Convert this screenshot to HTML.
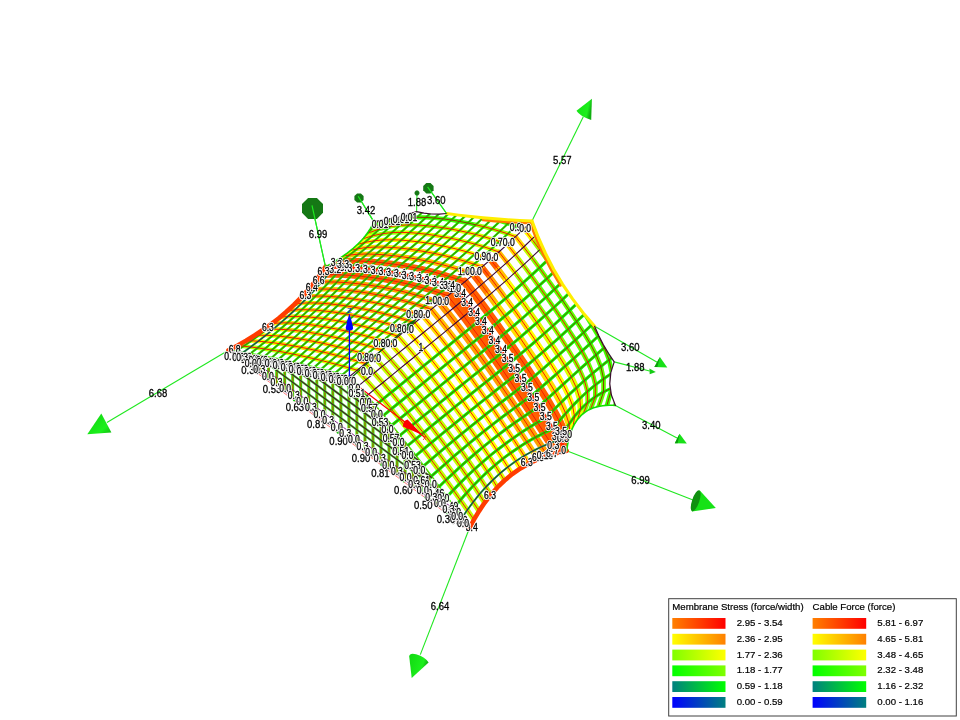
<!DOCTYPE html>
<html><head><meta charset="utf-8"><title>Membrane stress plot</title>
<style>
html,body{margin:0;padding:0;background:#fff;}
svg{display:block;will-change:transform;font-family:"Liberation Sans",Arial,sans-serif;}
.lt{font-size:9.62px;fill:#000;stroke:#000;stroke-width:0.2px;}
.lb{font-size:11.2px;fill:#000;stroke:#000;stroke-width:0.3px;stroke-linejoin:round;text-anchor:middle;}
.h{fill:#fff;stroke:#fff;stroke-width:2.2px;}
.s{font-size:10px;}
</style></head>
<body>
<svg width="960" height="720" viewBox="0 0 960 720">
<defs><linearGradient id="cg1" x1="0" y1="0" x2="1" y2="1"><stop offset="0" stop-color="#10d010"/><stop offset="0.7" stop-color="#1cf01c"/><stop offset="1" stop-color="#0fb80f"/></linearGradient><linearGradient id="cg2" x1="0" y1="0" x2="1" y2="0.4"><stop offset="0" stop-color="#12d812"/><stop offset="0.75" stop-color="#1cf01c"/><stop offset="1" stop-color="#0fa80f"/></linearGradient><linearGradient id="cg3" x1="0" y1="0" x2="1" y2="0.3"><stop offset="0" stop-color="#14e014"/><stop offset="0.8" stop-color="#1cee1c"/><stop offset="1" stop-color="#10b010"/></linearGradient><linearGradient id="lg0"><stop offset="0" stop-color="#0000ff"/><stop offset="1" stop-color="#008080"/></linearGradient><linearGradient id="lg1"><stop offset="0" stop-color="#008080"/><stop offset="1" stop-color="#00ff00"/></linearGradient><linearGradient id="lg2"><stop offset="0" stop-color="#00ff00"/><stop offset="1" stop-color="#80ff00"/></linearGradient><linearGradient id="lg3"><stop offset="0" stop-color="#80ff00"/><stop offset="1" stop-color="#ffff00"/></linearGradient><linearGradient id="lg4"><stop offset="0" stop-color="#ffff00"/><stop offset="1" stop-color="#ff8000"/></linearGradient><linearGradient id="lg5"><stop offset="0" stop-color="#ff8000"/><stop offset="1" stop-color="#ff0000"/></linearGradient><clipPath id="mem"><path d="M228.5 350.3L235.7 351.4L242.8 352.6L250.0 353.9L257.1 355.2L264.3 356.5L271.4 358.0L278.5 359.4L285.6 360.9L292.7 362.5L299.8 364.1L306.9 365.8L313.9 367.6L321.0 369.3L328.0 371.2L335.0 373.1L342.0 375.0L349.0 377.0L357.9 386.4L366.5 396.0L375.0 405.7L383.3 415.6L391.5 425.5L399.6 435.6L407.6 445.7L415.6 455.9L423.4 466.1L431.2 476.4L438.9 486.8L446.6 497.1L454.2 507.6L461.8 518.0L469.3 528.5L473.9 519.7L479.0 511.1L484.6 502.8L490.7 494.9L497.3 487.4L504.5 480.5L512.2 474.1L520.4 468.4L529.0 463.4L538.0 459.1L547.3 455.6L556.9 452.9L566.7 450.8L568.0 442.5L570.0 434.3L573.2 426.5L577.6 419.4L583.5 413.4L590.7 409.0L598.6 406.4L607.0 405.3L615.4 405.5L611.4 395.0L609.8 383.8L610.8 372.6L614.2 361.9L608.5 353.4L603.4 344.7L598.7 335.6L594.6 326.3L583.2 312.9L572.5 298.9L562.6 284.3L553.6 269.2L545.5 253.5L538.3 237.5L532.0 221.0L519.8 220.4L507.5 219.7L495.3 218.8L483.1 217.7L470.9 216.5L458.8 215.1L446.6 213.5L439.1 214.2L431.5 214.0L424.0 213.2L416.6 211.6L406.1 214.9L395.4 217.6L384.7 219.9L373.8 221.6L370.5 228.3L366.4 234.6L361.6 240.3L356.3 245.6L350.6 250.5L344.6 255.0L338.4 259.2L332.0 263.1L325.5 266.8L319.9 275.0L313.9 283.0L307.5 290.6L300.8 298.0L293.8 305.0L286.4 311.8L278.8 318.2L270.9 324.3L262.8 330.0L254.5 335.5L246.0 340.7L237.3 345.7L228.5 350.3Z"/></clipPath></defs>
<rect width="960" height="720" fill="#fff"/>
<g fill="none" stroke-linecap="butt">
<path d="M228.5 350.3L106.9 422.5" stroke="#1fe81f" stroke-width="1.1"/>
<path d="M469.3 528.5L420.3 654.6" stroke="#1fe81f" stroke-width="1.1"/>
<path d="M566.7 450.8L695.6 501.0" stroke="#1fe81f" stroke-width="1.1"/>
<path d="M532.0 221.0L583.3 116.7" stroke="#1fe81f" stroke-width="1.1"/>
<path d="M594.6 326.3L657.6 362.4" stroke="#1fe81f" stroke-width="1.1"/>
<path d="M614.2 361.9L649.6 371.0" stroke="#1fe81f" stroke-width="1.1"/>
<path d="M615.4 405.5L678.0 438.5" stroke="#1fe81f" stroke-width="1.1"/>
<path d="M325.5 266.8L312.0 205.4" stroke="#1fe81f" stroke-width="1.1"/>
<path d="M373.8 221.6L358.2 196.2" stroke="#1fe81f" stroke-width="1.1"/>
<path d="M416.6 211.6L417.0 192.5" stroke="#1fe81f" stroke-width="1.1"/>
<path d="M446.6 213.5L427.6 186.8" stroke="#1fe81f" stroke-width="1.1"/>
</g>
<g fill="none" stroke-linecap="butt">
<path d="M236.5 351.6V356.2M244.6 352.9V362.2M252.6 354.3V368.1M260.6 355.8V374.1M268.6 357.4V380.0M276.7 359.0V385.9M284.7 360.7V391.9M292.7 362.5V397.8M300.7 364.4V403.8M308.8 366.3V409.7M316.8 368.3V415.6M324.8 370.3V421.6M332.8 372.5V427.5M340.9 374.7V433.5M348.9 377.0V439.4M356.9 385.4V445.3M365.0 394.2V451.3M373.0 403.4V457.2M381.0 412.8V463.2M389.0 422.5V469.1M397.1 432.4V475.0M405.1 442.5V481.0M413.1 452.7V486.9M421.1 463.1V492.9M429.2 473.7V498.8M437.2 484.4V504.7M445.2 495.3V510.7M453.2 506.2V516.6M461.3 517.3V522.6" stroke="#30e000" stroke-width="2.9"/>
<path d="M236.5 351.6V356.2M244.6 352.9V362.2M252.6 354.3V368.1M260.6 355.8V374.1M268.6 357.4V380.0M276.7 359.0V385.9M284.7 360.7V391.9M292.7 362.5V397.8M300.7 364.4V403.8M308.8 366.3V409.7M316.8 368.3V415.6M324.8 370.3V421.6M332.8 372.5V427.5M340.9 374.7V433.5M348.9 377.0V439.4M356.9 385.4V445.3M365.0 394.2V451.3M373.0 403.4V457.2M381.0 412.8V463.2M389.0 422.5V469.1M397.1 432.4V475.0M405.1 442.5V481.0M413.1 452.7V486.9M421.1 463.1V492.9M429.2 473.7V498.8M437.2 484.4V504.7M445.2 495.3V510.7M453.2 506.2V516.6M461.3 517.3V522.6" stroke="#a07800" stroke-width="1.3"/>
<path d="M256.6 355.6L444.2 494.4M270.1 358.1L432.2 478.0M284.2 361.0L419.1 460.9M298.7 364.3L405.1 443.0M313.8 367.9L390.5 424.7M329.3 371.9L374.0 405.0M345.4 376.3L353.9 382.6" stroke="#30e020" stroke-width="2.4" opacity="0.8"/>
<path d="M256.6 355.6L444.2 494.4M270.1 358.1L432.2 478.0M284.2 361.0L419.1 460.9M298.7 364.3L405.1 443.0M313.8 367.9L390.5 424.7M329.3 371.9L374.0 405.0M345.4 376.3L353.9 382.6" stroke="#4a0828" stroke-width="1.15"/>
<path d="M230.0 350.9L467.8 526.9M243.0 353.1L456.3 510.8" stroke="#70107a" stroke-width="0.9"/>
<path d="M229.5 352.5L468.3 529.7" stroke="#ff5a5a" stroke-width="0.8"/>
<g fill="#18c818" stroke="none"><circle cx="250.4" cy="367.7" r="1.3"/><circle cx="272.3" cy="383.9" r="1.3"/><circle cx="294.2" cy="400.1" r="1.3"/><circle cx="316.1" cy="416.3" r="1.3"/><circle cx="338.0" cy="432.5" r="1.3"/><circle cx="359.8" cy="448.7" r="1.3"/><circle cx="381.7" cy="464.9" r="1.3"/><circle cx="403.6" cy="481.1" r="1.3"/><circle cx="425.5" cy="497.3" r="1.3"/><circle cx="447.4" cy="513.5" r="1.3"/></g>
</g>
<g fill="none" stroke-linecap="round" stroke-linejoin="round" clip-path="url(#mem)">
<path d="M228.5 350.3L235.7 351.4M235.7 351.4L242.8 352.6M242.8 352.6L250.0 353.9M250.0 353.9L257.1 355.2M257.1 355.2L264.3 356.5M264.3 356.5L271.4 358.0M271.4 358.0L278.5 359.4M278.5 359.4L285.6 360.9M285.6 360.9L292.7 362.5M292.7 362.5L299.8 364.1M299.8 364.1L306.9 365.8M306.9 365.8L313.9 367.6M313.9 367.6L321.0 369.3M321.0 369.3L328.0 371.2M328.0 371.2L335.0 373.1M335.0 373.1L342.0 375.0M342.0 375.0L349.0 377.0M349.0 377.0L357.9 386.4M357.9 386.4L366.5 396.0M366.5 396.0L375.0 405.7M375.0 405.7L383.3 415.6M383.3 415.6L391.5 425.5M391.5 425.5L399.6 435.6M399.6 435.6L407.6 445.7M407.6 445.7L415.6 455.9M415.6 455.9L423.4 466.1M423.4 466.1L431.2 476.4M431.2 476.4L438.9 486.8M438.9 486.8L446.6 497.1M446.6 497.1L454.2 507.6M454.2 507.6L461.8 518.0M461.8 518.0L469.3 528.5" stroke="#40ff00" stroke-width="2.6"/>
<path d="M379.5 229.0L390.2 226.5M373.6 226.8L386.5 222.0M386.5 222.0L397.8 219.2M397.8 219.2L407.8 217.8M407.8 217.8L417.2 217.3M417.2 217.3L426.0 217.4M426.0 217.4L434.6 218.0M434.6 218.0L443.0 218.9M443.0 218.9L451.3 220.0M451.3 220.0L459.5 221.4M459.5 221.4L467.7 223.0M467.7 223.0L475.8 224.8M370.5 228.3L379.3 220.0M379.3 220.0L393.3 214.8M393.3 214.8L405.1 211.8M405.1 211.8L415.6 210.2M415.6 210.2L425.1 209.6M425.1 209.6L434.1 209.7M434.1 209.7L442.8 210.2M442.8 210.2L451.2 211.1M451.2 211.1L459.5 212.3M459.5 212.3L467.7 213.6M467.7 213.6L475.9 215.2M475.9 215.2L484.0 217.0M484.0 217.0L492.1 218.9M492.1 218.9L500.1 221.1M500.1 221.1L508.1 223.5M508.1 223.5L516.0 226.1M516.0 226.1L523.8 228.9M373.8 221.6L384.4 212.8M500.3 211.1L508.3 213.2M508.3 213.2L516.3 215.6M516.3 215.6L524.2 218.2M524.2 218.2L532.0 221.0" stroke="#40ff00" stroke-width="4.1"/>
<path d="M562.8 281.3L570.3 292.1M570.3 292.1L577.7 302.9M577.7 302.9L584.9 313.8M584.9 313.8L591.8 324.8M591.8 324.8L598.4 336.0M598.4 336.0L604.3 347.7M604.3 347.7L609.1 359.9M609.1 359.9L611.9 373.2M611.9 373.2L611.8 388.0M611.8 388.0L607.0 405.3M563.4 262.8L571.0 273.5M571.0 273.5L578.5 284.2M578.5 284.2L585.8 295.0M585.8 295.0L593.0 305.9M593.0 305.9L600.0 317.1M600.0 317.1L606.6 328.5M606.6 328.5L612.5 340.5M612.5 340.5L617.3 353.4M617.3 353.4L620.2 367.8M620.2 367.8L620.1 384.8M620.1 384.8L615.4 405.5M571.6 254.9L579.2 265.6M579.2 265.6L586.6 276.3M586.6 276.3L594.0 287.1M594.0 287.1L601.2 298.1M601.2 298.1L608.2 309.2M608.2 309.2L614.8 320.6M614.8 320.6L620.7 332.6M620.7 332.6L625.4 345.5M625.4 345.5L628.3 360.0M628.3 360.0L628.2 376.9M628.2 376.9L623.6 397.6M579.8 247.1L587.3 257.7M587.3 257.7L594.8 268.5M594.8 268.5L602.2 279.3M602.2 279.3L609.4 290.2M609.4 290.2L616.3 301.3M616.3 301.3L622.9 312.8M622.9 312.8L628.8 324.7M628.8 324.7L633.6 337.7M633.6 337.7L636.5 352.1M636.5 352.1L636.4 369.0M636.4 369.0L631.7 389.8" stroke="#40ff00" stroke-width="4.6"/>
<path d="M538.7 286.2L546.3 296.8M546.3 296.8L553.8 307.5M553.8 307.5L561.1 318.3M561.1 318.3L568.3 329.2M568.3 329.2L575.3 340.1M575.3 340.1L581.9 351.1M581.9 351.1L587.8 362.2M587.8 362.2L592.5 373.4M592.5 373.4L595.4 384.9M595.4 384.9L595.3 396.7M595.3 396.7L590.7 409.0M539.4 267.9L547.0 278.5M547.0 278.5L554.6 289.1M554.6 289.1L562.1 299.8M562.1 299.8L569.4 310.6M569.4 310.6L576.6 321.5M576.6 321.5L583.6 332.5M583.6 332.5L590.2 343.6M590.2 343.6L596.1 354.9M596.1 354.9L600.8 366.6M600.8 366.6L603.6 378.8M603.6 378.8L603.5 391.9M603.5 391.9L598.6 406.4M547.6 260.1L555.3 270.7M555.3 270.7L562.8 281.3M555.8 252.2L563.4 262.8M556.1 233.8L563.9 244.3M563.9 244.3L571.6 254.9M564.3 226.0L572.1 236.5M572.1 236.5L579.8 247.1" stroke="#60ff00" stroke-width="4.6"/>
<path d="M530.4 293.8L537.9 304.5M537.9 304.5L545.4 315.2M545.4 315.2L552.8 326.0M552.8 326.0L560.0 336.8M560.0 336.8L567.0 347.7M567.0 347.7L573.6 358.6M573.6 358.6L579.5 369.5M579.5 369.5L584.4 380.5M584.4 380.5L587.4 391.5M587.4 391.5L587.7 402.5M587.7 402.5L583.5 413.4M531.1 275.6L538.7 286.2M531.6 257.4L539.4 267.9M539.8 249.6L547.6 260.1M548.0 241.7L555.8 252.2" stroke="#80ff00" stroke-width="4.6"/>
<path d="M237.3 345.7L243.6 346.2M243.6 346.2L250.6 347.0M372.3 235.8L382.5 233.7M382.5 233.7L391.9 232.6M391.9 232.6L400.9 232.4M367.4 233.3L379.5 229.0M390.2 226.5L399.9 225.3M399.9 225.3L409.1 224.9M409.1 224.9L417.8 225.1M417.8 225.1L426.3 225.7M426.3 225.7L434.7 226.6M434.7 226.6L443.0 227.8M443.0 227.8L451.2 229.1M366.4 234.6L373.6 226.8M475.8 224.8L483.9 226.7M483.9 226.7L491.9 228.9M491.9 228.9L499.9 231.3M499.9 231.3L507.8 233.8M384.4 212.8L399.6 207.4M399.6 207.4L412.3 204.1M412.3 204.1L423.2 202.5M423.2 202.5L433.0 201.8M433.0 201.8L442.1 201.8M442.1 201.8L450.9 202.4M450.9 202.4L459.3 203.3M459.3 203.3L467.7 204.4M467.7 204.4L475.9 205.8M475.9 205.8L484.1 207.3M484.1 207.3L492.2 209.1M492.2 209.1L500.3 211.1M382.0 213.7L392.6 205.0M392.6 205.0L407.8 199.5M407.8 199.5L420.4 196.3M516.5 205.4L524.4 207.7M524.4 207.7L532.3 210.3M532.3 210.3L540.2 213.1" stroke="#a0ff00" stroke-width="4.1"/>
<path d="M514.9 272.7L522.7 283.2M522.7 283.2L530.4 293.8M523.3 265.1L531.1 275.6M531.9 239.2L539.8 249.6M540.1 231.3L548.0 241.7M548.2 223.4L556.1 233.8M556.4 215.6L564.3 226.0" stroke="#a0ff00" stroke-width="4.6"/>
<path d="M250.6 347.0L257.6 347.9M257.6 347.9L264.7 348.9M264.7 348.9L271.8 350.1M271.8 350.1L278.9 351.3M278.9 351.3L286.1 352.7M420.4 196.3L431.3 194.6M431.3 194.6L441.2 193.9M441.2 193.9L450.3 194.0M450.3 194.0L459.0 194.5M459.0 194.5L467.5 195.4M467.5 195.4L475.8 196.5M475.8 196.5L484.1 197.9M484.1 197.9L492.2 199.5M492.2 199.5L500.4 201.2M500.4 201.2L508.4 203.2M508.4 203.2L516.5 205.4M390.1 205.9L400.8 197.1M400.8 197.1L416.0 191.6M416.0 191.6L428.6 188.4M428.6 188.4L439.5 186.7M439.5 186.7L449.3 186.1M449.3 186.1L458.5 186.1M458.5 186.1L467.2 186.6M467.2 186.6L475.7 187.5M475.7 187.5L484.0 188.7M484.0 188.7L492.2 190.0M492.2 190.0L500.4 191.6M500.4 191.6L508.5 193.4M508.5 193.4L516.6 195.3M516.6 195.3L524.6 197.5M524.6 197.5L532.6 199.9M532.6 199.9L540.5 202.5M540.5 202.5L548.3 205.3" stroke="#c0ff00" stroke-width="4.1"/>
<path d="M515.4 254.7L523.3 265.1M523.7 247.0L531.6 257.4" stroke="#c0ff00" stroke-width="4.6"/>
<path d="M357.2 370.2L366.0 379.7M366.0 379.7L374.6 389.3M374.6 389.3L383.0 399.1M383.0 399.1L391.3 409.0M391.3 409.0L399.5 419.0M399.5 419.0L407.5 429.1M407.5 429.1L415.4 439.3M415.4 439.3L423.3 449.4M423.3 449.4L431.0 459.6M431.0 459.6L438.6 469.8M438.6 469.8L446.0 480.0M446.0 480.0L453.3 490.1M453.3 490.1L460.4 500.1M460.4 500.1L467.3 510.0M467.3 510.0L473.9 519.7M365.5 363.5L374.2 373.0M374.2 373.0L382.7 382.7M382.7 382.7L391.1 392.5M391.1 392.5L399.3 402.5M399.3 402.5L407.4 412.6M407.4 412.6L415.4 422.7M415.4 422.7L423.3 432.8M423.3 432.8L431.0 443.0M431.0 443.0L438.6 453.2M438.6 453.2L446.0 463.3M446.0 463.3L453.2 473.3M453.2 473.3L460.1 483.1M460.1 483.1L466.8 492.7M466.8 492.7L473.1 502.1M473.1 502.1L479.0 511.1M373.7 356.7L382.4 366.3M382.4 366.3L390.8 376.1M390.8 376.1L399.2 386.0M399.2 386.0L407.3 396.0M407.3 396.0L415.4 406.1M415.4 406.1L423.3 416.2M423.3 416.2L431.1 426.4M431.1 426.4L438.7 436.6M438.7 436.6L446.2 446.7M446.2 446.7L453.4 456.7M453.4 456.7L460.4 466.6M460.4 466.6L467.1 476.2M467.1 476.2L473.5 485.5M473.5 485.5L479.3 494.4M479.3 494.4L484.6 502.8M381.9 349.9L390.5 359.6M390.5 359.6L399.0 369.4M399.0 369.4L407.2 379.4M407.2 379.4L415.3 389.5M415.3 389.5L423.3 399.6M423.3 399.6L431.2 409.8M431.2 409.8L438.9 420.0M438.9 420.0L446.5 430.2M446.5 430.2L453.8 440.3M453.8 440.3L461.0 450.3M461.0 450.3L467.8 460.0M467.8 460.0L474.3 469.5M474.3 469.5L480.4 478.5M480.4 478.5L485.9 487.0M485.9 487.0L490.7 494.9" stroke="#c0ff00" stroke-width="5.0"/>
<path d="M286.1 352.7L293.2 354.1M293.2 354.1L300.4 355.6M300.4 355.6L307.5 357.2M307.5 357.2L314.7 358.9M314.7 358.9L321.8 360.6M321.8 360.6L328.9 362.4M328.9 362.4L336.0 364.3M336.0 364.3L343.1 366.2M343.1 366.2L350.2 368.2M350.2 368.2L357.2 370.2M356.3 245.6L360.9 239.5M360.9 239.5L372.3 235.8M400.9 232.4L409.5 232.6M409.5 232.6L418.0 233.3M418.0 233.3L426.3 234.2M426.3 234.2L434.6 235.4M434.6 235.4L442.8 236.8M442.8 236.8L451.0 238.3M451.0 238.3L459.1 240.1M459.1 240.1L467.2 242.1M467.2 242.1L475.2 244.2M475.2 244.2L483.2 246.6M483.2 246.6L491.1 249.2M491.1 249.2L498.9 252.0M361.6 240.3L367.4 233.3M451.2 229.1L459.4 230.7M459.4 230.7L467.5 232.5M467.5 232.5L475.6 234.4M475.6 234.4L483.6 236.6M483.6 236.6L491.6 239.0M491.6 239.0L499.5 241.6M499.5 241.6L507.3 244.4M507.8 233.8L515.6 236.7" stroke="#dfff00" stroke-width="4.1"/>
<path d="M507.0 262.3L514.9 272.7" stroke="#dfff00" stroke-width="4.6"/>
<path d="M390.2 343.2L398.7 352.9M398.7 352.9L407.1 362.8M407.1 362.8L415.3 372.8M415.3 372.8L423.4 382.9M423.4 382.9L431.3 393.1M431.3 393.1L439.1 403.4M439.1 403.4L446.8 413.6M446.8 413.6L454.3 423.8M454.3 423.8L461.6 433.9M461.6 433.9L468.6 443.9M468.6 443.9L475.3 453.5M475.3 453.5L481.7 462.9M481.7 462.9L487.5 471.7M487.5 471.7L492.8 480.0M492.8 480.0L497.3 487.4M398.4 336.4L406.9 346.2M406.9 346.2L415.2 356.2M415.2 356.2L423.3 366.2M423.3 366.2L431.4 376.4M431.4 376.4L439.3 386.7M439.3 386.7L447.0 397.0M447.0 397.0L454.6 407.2M454.6 407.2L462.1 417.5M462.1 417.5L469.3 427.6M469.3 427.6L476.3 437.5M476.3 437.5L482.9 447.2M482.9 447.2L489.2 456.4M489.2 456.4L495.0 465.2M495.0 465.2L500.1 473.3M500.1 473.3L504.5 480.5" stroke="#dfff00" stroke-width="5.0"/>
<path d="M521.9 301.4L529.5 312.0M529.5 312.0L537.0 322.7M537.0 322.7L544.3 333.5M544.3 333.5L551.5 344.3M551.5 344.3L558.5 355.2M558.5 355.2L565.2 366.1M565.2 366.1L571.3 377.0M571.3 377.0L576.4 387.8M576.4 387.8L579.8 398.5M579.8 398.5L580.7 409.1M580.7 409.1L577.6 419.4" stroke="#dfff00" stroke-width="6.0"/>
<path d="M452.5 291.8L460.6 302.1M460.6 302.1L468.6 312.5M468.6 312.5L476.4 323.0M476.4 323.0L484.1 333.5M484.1 333.5L491.7 344.2M491.7 344.2L499.2 354.9M499.2 354.9L506.6 365.6M506.6 365.6L513.9 376.4M513.9 376.4L521.1 387.2M521.1 387.2L528.3 398.0M528.3 398.0L535.3 408.8M535.3 408.8L542.3 419.6M542.3 419.6L549.2 430.4M549.2 430.4L556.0 441.1M556.0 441.1L562.6 451.7" stroke="#ff5a00" stroke-width="8.0"/>
<path d="M482.0 267.0L490.0 277.3" stroke="#ff6000" stroke-width="5.6"/>
<path d="M490.5 259.6L498.5 269.9" stroke="#ff6000" stroke-width="6.0"/>
<path d="M319.9 275.0L320.0 274.6M320.0 274.6L327.8 274.6M327.8 274.6L335.7 274.7M335.7 274.7L343.7 275.0M343.7 275.0L351.8 275.5M351.8 275.5L359.8 276.2M359.8 276.2L367.9 277.1M367.9 277.1L376.0 278.1M376.0 278.1L384.1 279.3M384.1 279.3L392.2 280.7M392.2 280.7L400.3 282.3M400.3 282.3L408.3 284.1M408.3 284.1L416.3 286.0M416.3 286.0L424.3 288.2M424.3 288.2L432.2 290.5M432.2 290.5L440.0 293.0M440.0 293.0L447.8 295.8M332.0 263.1L332.9 261.8M332.9 261.8L341.7 261.1M341.7 261.1L350.4 260.8M350.4 260.8L358.9 261.0M358.9 261.0L367.3 261.4M367.3 261.4L375.6 262.0M375.6 262.0L383.9 262.9M383.9 262.9L392.2 263.9M392.2 263.9L400.4 265.1M400.4 265.1L408.6 266.5M408.6 266.5L416.8 268.1M416.8 268.1L424.9 269.9M424.9 269.9L433.0 271.8M433.0 271.8L441.0 274.0M441.0 274.0L449.0 276.4M449.0 276.4L456.9 279.0M456.9 279.0L464.7 281.8" stroke="#ff6000" stroke-width="6.2"/>
<path d="M473.4 274.4L481.4 284.7" stroke="#ff6000" stroke-width="7.0"/>
<path d="M464.7 281.8L472.8 292.1M472.8 292.1L480.7 302.5M480.7 302.5L488.5 313.0M488.5 313.0L496.2 323.6M496.2 323.6L503.7 334.2M503.7 334.2L511.2 344.9M511.2 344.9L518.6 355.7M518.6 355.7L525.9 366.5M525.9 366.5L533.1 377.4M533.1 377.4L540.1 388.3M540.1 388.3L546.9 399.2M546.9 399.2L553.3 410.2M553.3 410.2L559.2 421.0M559.2 421.0L564.2 431.8M564.2 431.8L568.0 442.5" stroke="#ff6000" stroke-width="8.0"/>
<path d="M447.8 295.8L455.9 306.0M455.9 306.0L463.9 316.3M463.9 316.3L471.7 326.8M471.7 326.8L479.4 337.3M479.4 337.3L487.0 347.9M487.0 347.9L494.6 358.6M494.6 358.6L502.0 369.2M502.0 369.2L509.3 379.9M509.3 379.9L516.5 390.6M516.5 390.6L523.6 401.3M523.6 401.3L530.6 411.9M530.6 411.9L537.5 422.4M537.5 422.4L544.1 432.8M544.1 432.8L550.6 442.9M550.6 442.9L556.9 452.9" stroke="#ff6000" stroke-width="8.6"/>
<path d="M481.4 284.7L489.3 295.1" stroke="#ff8000" stroke-width="7.0"/>
<path d="M345.4 290.2L353.2 291.0M353.2 291.0L361.1 292.0M361.1 292.0L369.0 293.3M369.0 293.3L376.9 294.7M376.9 294.7L384.7 296.2M384.7 296.2L392.6 298.0M392.6 298.0L400.4 299.9M400.4 299.9L408.2 302.0M408.2 302.0L416.0 304.3M416.0 304.3L423.7 306.7M423.7 306.7L431.3 309.3" stroke="#ffa000" stroke-width="4.5"/>
<path d="M313.9 283.0L314.1 282.3M314.1 282.3L321.6 282.0M321.6 282.0L329.2 281.9M329.2 281.9L336.9 282.1M336.9 282.1L344.8 282.5M344.8 282.5L352.7 283.2M352.7 283.2L360.6 284.0M360.6 284.0L368.6 285.1M368.6 285.1L376.6 286.3M376.6 286.3L384.6 287.7M384.6 287.7L392.5 289.3M392.5 289.3L400.5 291.0M400.5 291.0L408.4 293.0M408.4 293.0L416.3 295.1M416.3 295.1L424.1 297.4M424.1 297.4L431.8 299.9M431.8 299.9L439.5 302.5" stroke="#ffa000" stroke-width="5.0"/>
<path d="M490.0 277.3L497.9 287.7" stroke="#ffa000" stroke-width="5.6"/>
<path d="M439.5 302.5L447.7 312.7M447.7 312.7L455.7 323.0M455.7 323.0L463.6 333.4M463.6 333.4L471.4 343.8M471.4 343.8L479.1 354.4M479.1 354.4L486.6 364.9M486.6 364.9L494.1 375.5M494.1 375.5L501.4 386.1M501.4 386.1L508.6 396.7M508.6 396.7L515.6 407.1M515.6 407.1L522.5 417.4M522.5 417.4L529.1 427.5M529.1 427.5L535.5 437.3M535.5 437.3L541.6 446.7M541.6 446.7L547.3 455.6" stroke="#ffa000" stroke-width="7.0"/>
<path d="M331.0 311.7L338.6 312.8M338.6 312.8L346.2 314.1M346.2 314.1L353.8 315.5M353.8 315.5L361.4 317.1M361.4 317.1L369.0 318.9M369.0 318.9L376.6 320.7M376.6 320.7L384.2 322.7M384.2 322.7L391.7 324.9M391.7 324.9L399.2 327.2M399.2 327.2L406.6 329.6M316.0 303.0L323.4 303.4M323.4 303.4L330.9 304.0M330.9 304.0L338.4 304.9M338.4 304.9L346.1 305.9M346.1 305.9L353.8 307.2M353.8 307.2L361.5 308.6M361.5 308.6L369.2 310.2M369.2 310.2L376.9 311.9M376.9 311.9L384.5 313.8M384.5 313.8L392.2 315.8M392.2 315.8L399.8 318.0M399.8 318.0L407.3 320.4M407.3 320.4L414.8 322.8M300.8 298.0L301.7 296.9M301.7 296.9L308.6 296.3M308.6 296.3L315.7 296.0M315.7 296.0L323.1 296.1M323.1 296.1L330.6 296.5M330.6 296.5L338.2 297.1M338.2 297.1L345.9 297.9M345.9 297.9L353.6 299.0M353.6 299.0L361.4 300.2M361.4 300.2L369.2 301.6M369.2 301.6L377.0 303.2M377.0 303.2L384.7 304.9M384.7 304.9L392.5 306.8M392.5 306.8L400.2 308.9M400.2 308.9L407.9 311.1M407.9 311.1L415.5 313.5M415.5 313.5L423.1 316.1" stroke="#ffc000" stroke-width="4.1"/>
<path d="M307.5 290.6L308.0 289.7M308.0 289.7L315.2 289.2M315.2 289.2L322.5 289.0M322.5 289.0L330.0 289.2M330.0 289.2L337.7 289.5M337.7 289.5L345.4 290.2" stroke="#ffc000" stroke-width="4.5"/>
<path d="M498.9 252.0L507.0 262.3" stroke="#ffc000" stroke-width="4.6"/>
<path d="M338.4 259.2L340.1 256.5M340.1 256.5L349.5 255.0M349.5 255.0L358.5 254.2M358.5 254.2L367.3 254.0M367.3 254.0L375.8 254.3M375.8 254.3L384.2 254.8M384.2 254.8L392.6 255.6M392.6 255.6L400.8 256.6M400.8 256.6L409.1 257.8M409.1 257.8L417.3 259.2M417.3 259.2L425.4 260.8M425.4 260.8L433.6 262.5M433.6 262.5L441.7 264.5M441.7 264.5L449.7 266.7M449.7 266.7L457.6 269.0M457.6 269.0L465.5 271.6M465.5 271.6L473.4 274.4" stroke="#ffc000" stroke-width="5.0"/>
<path d="M497.9 287.7L505.7 298.3" stroke="#ffc000" stroke-width="5.6"/>
<path d="M431.3 309.3L439.5 319.4M439.5 319.4L447.6 329.6M447.6 329.6L455.6 339.9M455.6 339.9L463.4 350.3M463.4 350.3L471.1 360.8M471.1 360.8L478.7 371.3M478.7 371.3L486.2 381.8M486.2 381.8L493.5 392.3M493.5 392.3L500.7 402.7M500.7 402.7L507.7 413.0M507.7 413.0L514.4 423.0M514.4 423.0L520.9 432.8M520.9 432.8L527.0 442.1M527.0 442.1L532.8 451.0M532.8 451.0L538.0 459.1" stroke="#ffc000" stroke-width="5.8"/>
<path d="M498.5 269.9L506.4 280.3" stroke="#ffc000" stroke-width="6.0"/>
<path d="M489.3 295.1L497.1 305.7" stroke="#ffc000" stroke-width="7.0"/>
<path d="M279.3 343.6L286.4 344.7M286.4 344.7L293.6 345.9M293.6 345.9L300.8 347.3M300.8 347.3L308.0 348.7M308.0 348.7L315.2 350.3M315.2 350.3L322.5 351.9M322.5 351.9L329.7 353.6M329.7 353.6L336.9 355.5M336.9 355.5L344.0 357.3M344.0 357.3L351.2 359.3M351.2 359.3L358.3 361.3M358.3 361.3L365.5 363.5M279.6 336.2L286.7 337.0M286.7 337.0L293.9 338.0M293.9 338.0L301.1 339.1M301.1 339.1L308.4 340.4M308.4 340.4L315.7 341.8M315.7 341.8L322.9 343.3M322.9 343.3L330.2 345.0M330.2 345.0L337.5 346.7M337.5 346.7L344.8 348.5M344.8 348.5L352.1 350.4M352.1 350.4L359.3 352.4M359.3 352.4L366.5 354.5M366.5 354.5L373.7 356.7M280.0 329.3L287.0 329.7M287.0 329.7L294.1 330.4M294.1 330.4L301.3 331.2M301.3 331.2L308.6 332.3M308.6 332.3L315.9 333.5M315.9 333.5L323.3 334.9M323.3 334.9L330.7 336.4M330.7 336.4L338.0 338.0M338.0 338.0L345.4 339.7M345.4 339.7L352.8 341.6M352.8 341.6L360.1 343.5M360.1 343.5L367.4 345.5M367.4 345.5L374.7 347.7M374.7 347.7L381.9 349.9M274.0 323.4L280.5 322.9M280.5 322.9L287.4 322.9M287.4 322.9L294.3 323.2M294.3 323.2L301.5 323.7M301.5 323.7L308.7 324.5M308.7 324.5L316.1 325.5M316.1 325.5L323.5 326.6M323.5 326.6L330.9 328.0M330.9 328.0L338.4 329.4M338.4 329.4L345.8 331.1M345.8 331.1L353.3 332.8M353.3 332.8L360.7 334.6M360.7 334.6L368.1 336.6M368.1 336.6L375.5 338.7M375.5 338.7L382.8 340.8M382.8 340.8L390.2 343.2M278.8 318.2L281.2 317.1M281.2 317.1L287.8 316.5M287.8 316.5L294.6 316.4M294.6 316.4L301.6 316.5M301.6 316.5L308.8 317.0M308.8 317.0L316.1 317.7M316.1 317.7L323.6 318.6M323.6 318.6L331.0 319.7M331.0 319.7L338.5 321.0M338.5 321.0L346.1 322.5M346.1 322.5L353.6 324.1M353.6 324.1L361.1 325.8M361.1 325.8L368.7 327.7M368.7 327.7L376.1 329.7M376.1 329.7L383.6 331.8M383.6 331.8L391.0 334.0M391.0 334.0L398.4 336.4M286.4 311.8L288.2 310.6M288.2 310.6L294.9 309.9M294.9 309.9L301.7 309.7M301.7 309.7L308.9 309.8M308.9 309.8L316.1 310.2M316.1 310.2L323.5 310.9M323.5 310.9L331.0 311.7M293.8 305.0L295.1 303.9M295.1 303.9L301.8 303.2M301.8 303.2L308.8 302.9M308.8 302.9L316.0 303.0" stroke="#ffdf00" stroke-width="4.1"/>
<path d="M344.6 255.0L347.2 251.1M347.2 251.1L357.3 248.8M357.3 248.8L366.6 247.5M366.6 247.5L375.6 247.0M375.6 247.0L384.2 247.1M384.2 247.1L392.7 247.5M392.7 247.5L401.1 248.2M401.1 248.2L409.4 249.2M409.4 249.2L417.7 250.4M417.7 250.4L425.9 251.8M425.9 251.8L434.0 253.4M434.0 253.4L442.2 255.1M442.2 255.1L450.2 257.1M450.2 257.1L458.3 259.3M458.3 259.3L466.2 261.6M466.2 261.6L474.1 264.2M474.1 264.2L482.0 267.0" stroke="#ffdf00" stroke-width="4.5"/>
<path d="M507.3 244.4L515.4 254.7M515.6 236.7L523.7 247.0" stroke="#ffdf00" stroke-width="4.6"/>
<path d="M423.1 316.1L431.4 326.1M431.4 326.1L439.5 336.3M439.5 336.3L447.5 346.5M447.5 346.5L455.4 356.9M455.4 356.9L463.1 367.3M463.1 367.3L470.8 377.7M470.8 377.7L478.3 388.2M478.3 388.2L485.6 398.6M485.6 398.6L492.8 408.9M492.8 408.9L499.7 419.0M499.7 419.0L506.4 428.8M506.4 428.8L512.8 438.4M512.8 438.4L518.7 447.4M518.7 447.4L524.2 455.8M524.2 455.8L529.0 463.4" stroke="#ffdf00" stroke-width="5.0"/>
<path d="M505.7 298.3L513.4 308.8M513.4 308.8L521.0 319.5M521.0 319.5L528.4 330.2" stroke="#ffdf00" stroke-width="5.6"/>
<path d="M497.1 305.7L504.8 316.2M504.8 316.2L512.4 326.9M512.4 326.9L519.9 337.6M519.9 337.6L527.2 348.4M527.2 348.4L534.5 359.2M534.5 359.2L541.6 370.1M541.6 370.1L548.5 381.0M548.5 381.0L555.0 391.9M555.0 391.9L560.9 402.7M560.9 402.7L565.7 413.4M565.7 413.4L569.1 424.0M569.1 424.0L570.0 434.3" stroke="#ffdf00" stroke-width="7.0"/>
<path d="M246.0 340.7L251.4 340.8M251.4 340.8L258.2 341.2M258.2 341.2L265.1 341.8M265.1 341.8L272.2 342.6M272.2 342.6L279.3 343.6M254.5 335.5L259.1 335.2M259.1 335.2L265.8 335.3M265.8 335.3L272.6 335.6M272.6 335.6L279.6 336.2M262.8 330.0L266.6 329.4M266.6 329.4L273.2 329.2M273.2 329.2L280.0 329.3M270.9 324.3L274.0 323.4M350.6 250.5L354.2 245.4M354.2 245.4L364.8 242.4M364.8 242.4L374.6 240.7M374.6 240.7L383.8 239.9M383.8 239.9L392.6 239.8M392.6 239.8L401.2 240.1M401.2 240.1L409.6 240.8M409.6 240.8L417.9 241.8M417.9 241.8L426.2 242.9M426.2 242.9L434.4 244.3M434.4 244.3L442.5 245.9M442.5 245.9L450.7 247.7M450.7 247.7L458.8 249.6M458.8 249.6L466.8 251.8M466.8 251.8L474.7 254.2M474.7 254.2L482.6 256.8M482.6 256.8L490.5 259.6" stroke="#ffff00" stroke-width="4.1"/>
<path d="M523.8 228.9L531.9 239.2M532.0 221.0L540.1 231.3M540.2 213.1L548.2 223.4M548.3 205.3L556.4 215.6" stroke="#ffff00" stroke-width="4.6"/>
<path d="M406.6 329.6L415.0 339.5M415.0 339.5L423.3 349.5M423.3 349.5L431.4 359.7M431.4 359.7L439.4 369.9M439.4 369.9L447.2 380.2M447.2 380.2L454.9 390.5M454.9 390.5L462.5 400.9M462.5 400.9L469.9 411.1M469.9 411.1L477.1 421.3M477.1 421.3L484.0 431.2M484.0 431.2L490.7 440.9M490.7 440.9L496.9 450.2M496.9 450.2L502.6 458.9M502.6 458.9L507.8 467.0M507.8 467.0L512.2 474.1M414.8 322.8L423.2 332.8M423.2 332.8L431.4 342.9M431.4 342.9L439.5 353.1M439.5 353.1L447.4 363.4M447.4 363.4L455.2 373.7M455.2 373.7L462.8 384.1M462.8 384.1L470.4 394.5M470.4 394.5L477.7 404.8M477.7 404.8L484.9 415.0M484.9 415.0L491.8 425.1M491.8 425.1L498.5 434.8M498.5 434.8L504.8 444.2M504.8 444.2L510.6 453.0M510.6 453.0L515.8 461.1M515.8 461.1L520.4 468.4" stroke="#ffff00" stroke-width="5.0"/>
<path d="M528.4 330.2L535.8 341.0M535.8 341.0L543.1 351.8M543.1 351.8L550.1 362.7M550.1 362.7L556.9 373.6M556.9 373.6L563.1 384.4M563.1 384.4L568.5 395.2M568.5 395.2L572.6 405.9M572.6 405.9L574.5 416.4M574.5 416.4L573.2 426.5" stroke="#ffff00" stroke-width="5.6"/>
<path d="M506.4 280.3L514.2 290.8M514.2 290.8L521.9 301.4" stroke="#ffff00" stroke-width="6.0"/>
<path d="M235.7 351.4L243.6 346.2M243.6 346.2L251.4 340.8M251.4 340.8L259.1 335.2M259.1 335.2L266.6 329.4M266.6 329.4L274.0 323.4M274.0 323.4L281.2 317.1M281.2 317.1L288.2 310.6M288.2 310.6L295.1 303.9M295.1 303.9L301.7 296.9M301.7 296.9L308.0 289.7M308.0 289.7L314.1 282.3M314.1 282.3L320.0 274.6M320.0 274.6L325.5 266.8M325.5 266.8L332.9 261.8M332.9 261.8L340.1 256.5M340.1 256.5L347.2 251.1M347.2 251.1L354.2 245.4M354.2 245.4L360.9 239.5M360.9 239.5L367.4 233.3M367.4 233.3L373.6 226.8M373.6 226.8L379.3 220.0M379.3 220.0L384.4 212.8M384.4 212.8L392.6 205.0M392.6 205.0L400.8 197.1M400.8 197.1L408.9 189.2M333.8 267.0L341.7 261.1M341.7 261.1L349.5 255.0M349.5 255.0L357.3 248.8M357.3 248.8L364.8 242.4M364.8 242.4L372.3 235.8M372.3 235.8L379.5 229.0M379.5 229.0L386.5 222.0M386.5 222.0L393.3 214.8M393.3 214.8L399.6 207.4M399.6 207.4L407.8 199.5M407.8 199.5L416.0 191.6M416.0 191.6L424.1 183.8M250.0 353.9L257.6 347.9M257.6 347.9L265.1 341.8M265.1 341.8L272.6 335.6M272.6 335.6L280.0 329.3M280.0 329.3L287.4 322.9M287.4 322.9L294.6 316.4M294.6 316.4L301.7 309.7M301.7 309.7L308.8 302.9M308.8 302.9L315.7 296.0M315.7 296.0L322.5 289.0M322.5 289.0L329.2 281.9M329.2 281.9L335.7 274.7M335.7 274.7L342.1 267.3M342.1 267.3L350.4 260.8M350.4 260.8L358.5 254.2M358.5 254.2L366.6 247.5M366.6 247.5L374.6 240.7M374.6 240.7L382.5 233.7M382.5 233.7L390.2 226.5M390.2 226.5L397.8 219.2M397.8 219.2L405.1 211.8M405.1 211.8L412.3 204.1M412.3 204.1L420.4 196.3M420.4 196.3L428.6 188.4M428.6 188.4L436.7 180.6M257.1 355.2L264.7 348.9M264.7 348.9L272.2 342.6M272.2 342.6L279.6 336.2M279.6 336.2L287.0 329.7M287.0 329.7L294.3 323.2M294.3 323.2L301.6 316.5M301.6 316.5L308.9 309.8M308.9 309.8L316.0 303.0M316.0 303.0L323.1 296.1M323.1 296.1L330.0 289.2M330.0 289.2L336.9 282.1M336.9 282.1L343.7 275.0M343.7 275.0L350.4 267.8M350.4 267.8L358.9 261.0M358.9 261.0L367.3 254.0M367.3 254.0L375.6 247.0M375.6 247.0L383.8 239.9M383.8 239.9L391.9 232.6M391.9 232.6L399.9 225.3M399.9 225.3L407.8 217.8M407.8 217.8L415.6 210.2M415.6 210.2L423.2 202.5M423.2 202.5L431.3 194.6M431.3 194.6L439.5 186.7M439.5 186.7L447.7 178.9M264.3 356.5L271.8 350.1M271.8 350.1L279.3 343.6M279.3 343.6L286.7 337.0M286.7 337.0L294.1 330.4M294.1 330.4L301.5 323.7M301.5 323.7L308.8 317.0M308.8 317.0L316.1 310.2M316.1 310.2L323.4 303.4M323.4 303.4L330.6 296.5M330.6 296.5L337.7 289.5M337.7 289.5L344.8 282.5M344.8 282.5L351.8 275.5M351.8 275.5L358.7 268.4M358.7 268.4L367.3 261.4M367.3 261.4L375.8 254.3M375.8 254.3L384.2 247.1M384.2 247.1L392.6 239.8M392.6 239.8L400.9 232.4M400.9 232.4L409.1 224.9M409.1 224.9L417.2 217.3M417.2 217.3L425.1 209.6M425.1 209.6L433.0 201.8M433.0 201.8L441.2 193.9M441.2 193.9L449.3 186.1M449.3 186.1L457.5 178.2M271.4 358.0L278.9 351.3M278.9 351.3L286.4 344.7M286.4 344.7L293.9 338.0M293.9 338.0L301.3 331.2M301.3 331.2L308.7 324.5M308.7 324.5L316.1 317.7M316.1 317.7L323.5 310.9M323.5 310.9L330.9 304.0M330.9 304.0L338.2 297.1M338.2 297.1L345.4 290.2M345.4 290.2L352.7 283.2M352.7 283.2L359.8 276.2M359.8 276.2L367.0 269.1M367.0 269.1L375.6 262.0M375.6 262.0L384.2 254.8M384.2 254.8L392.7 247.5M392.7 247.5L401.2 240.1M401.2 240.1L409.5 232.6M409.5 232.6L417.8 225.1M417.8 225.1L426.0 217.4M426.0 217.4L434.1 209.7M434.1 209.7L442.1 201.8M442.1 201.8L450.3 194.0M450.3 194.0L458.5 186.1M458.5 186.1L466.6 178.3M278.5 359.4L286.1 352.7M286.1 352.7L293.6 345.9M293.6 345.9L301.1 339.1M301.1 339.1L308.6 332.3M308.6 332.3L316.1 325.5M316.1 325.5L323.6 318.6M323.6 318.6L331.0 311.7M331.0 311.7L338.4 304.9M338.4 304.9L345.9 297.9M345.9 297.9L353.2 291.0M353.2 291.0L360.6 284.0M360.6 284.0L367.9 277.1M367.9 277.1L375.3 270.1M375.3 270.1L383.9 262.9M383.9 262.9L392.6 255.6M392.6 255.6L401.1 248.2M401.1 248.2L409.6 240.8M409.6 240.8L418.0 233.3M418.0 233.3L426.3 225.7M426.3 225.7L434.6 218.0M434.6 218.0L442.8 210.2M442.8 210.2L450.9 202.4M450.9 202.4L459.0 194.5M459.0 194.5L467.2 186.6M467.2 186.6L475.3 178.8M285.6 360.9L293.2 354.1M293.2 354.1L300.8 347.3M300.8 347.3L308.4 340.4M308.4 340.4L315.9 333.5M315.9 333.5L323.5 326.6M323.5 326.6L331.0 319.7M331.0 319.7L338.6 312.8M338.6 312.8L346.1 305.9M346.1 305.9L353.6 299.0M353.6 299.0L361.1 292.0M361.1 292.0L368.6 285.1M368.6 285.1L376.0 278.1M376.0 278.1L383.5 271.1M383.5 271.1L392.2 263.9M392.2 263.9L400.8 256.6M400.8 256.6L409.4 249.2M409.4 249.2L417.9 241.8M417.9 241.8L426.3 234.2M426.3 234.2L434.7 226.6M434.7 226.6L443.0 218.9M443.0 218.9L451.2 211.1M451.2 211.1L459.3 203.3M459.3 203.3L467.5 195.4M467.5 195.4L475.7 187.5M475.7 187.5L483.8 179.7M292.7 362.5L300.4 355.6M300.4 355.6L308.0 348.7M308.0 348.7L315.7 341.8M315.7 341.8L323.3 334.9M323.3 334.9L330.9 328.0M330.9 328.0L338.5 321.0M338.5 321.0L346.2 314.1M346.2 314.1L353.8 307.2M353.8 307.2L361.4 300.2M361.4 300.2L369.0 293.3M369.0 293.3L376.6 286.3M376.6 286.3L384.1 279.3M384.1 279.3L391.7 272.3M391.7 272.3L400.4 265.1M400.4 265.1L409.1 257.8M409.1 257.8L417.7 250.4M417.7 250.4L426.2 242.9M426.2 242.9L434.6 235.4M434.6 235.4L443.0 227.8M443.0 227.8L451.3 220.0M451.3 220.0L459.5 212.3M459.5 212.3L467.7 204.4M467.7 204.4L475.8 196.5M475.8 196.5L484.0 188.7M484.0 188.7L492.1 180.8M299.8 364.1L307.5 357.2M307.5 357.2L315.2 350.3M315.2 350.3L322.9 343.3M322.9 343.3L330.7 336.4M330.7 336.4L338.4 329.4M338.4 329.4L346.1 322.5M346.1 322.5L353.8 315.5M353.8 315.5L361.5 308.6M361.5 308.6L369.2 301.6M369.2 301.6L376.9 294.7M376.9 294.7L384.6 287.7M384.6 287.7L392.2 280.7M392.2 280.7L399.9 273.8M399.9 273.8L408.6 266.5M408.6 266.5L417.3 259.2M417.3 259.2L425.9 251.8M425.9 251.8L434.4 244.3M434.4 244.3L442.8 236.8M442.8 236.8L451.2 229.1M451.2 229.1L459.5 221.4M459.5 221.4L467.7 213.6M467.7 213.6L475.9 205.8M475.9 205.8L484.1 197.9M484.1 197.9L492.2 190.0M492.2 190.0L500.4 182.2M306.9 365.8L314.7 358.9M314.7 358.9L322.5 351.9M322.5 351.9L330.2 345.0M330.2 345.0L338.0 338.0M338.0 338.0L345.8 331.1M345.8 331.1L353.6 324.1M353.6 324.1L361.4 317.1M361.4 317.1L369.2 310.2M369.2 310.2L377.0 303.2M377.0 303.2L384.7 296.2M384.7 296.2L392.5 289.3M392.5 289.3L400.3 282.3M400.3 282.3L408.1 275.3M408.1 275.3L416.8 268.1M416.8 268.1L425.4 260.8M425.4 260.8L434.0 253.4M434.0 253.4L442.5 245.9M442.5 245.9L451.0 238.3M451.0 238.3L459.4 230.7M459.4 230.7L467.7 223.0M467.7 223.0L475.9 215.2M475.9 215.2L484.1 207.3M484.1 207.3L492.2 199.5M492.2 199.5L500.4 191.6M500.4 191.6L508.6 183.7M313.9 367.6L321.8 360.6M321.8 360.6L329.7 353.6M329.7 353.6L337.5 346.7M337.5 346.7L345.4 339.7M345.4 339.7L353.3 332.8M353.3 332.8L361.1 325.8M361.1 325.8L369.0 318.9M369.0 318.9L376.9 311.9M376.9 311.9L384.7 304.9M384.7 304.9L392.6 298.0M392.6 298.0L400.5 291.0M400.5 291.0L408.3 284.1M408.3 284.1L416.2 277.1M416.2 277.1L424.9 269.9M424.9 269.9L433.6 262.5M433.6 262.5L442.2 255.1M442.2 255.1L450.7 247.7M450.7 247.7L459.1 240.1M459.1 240.1L467.5 232.5M467.5 232.5L475.8 224.8M475.8 224.8L484.0 217.0M484.0 217.0L492.2 209.1M492.2 209.1L500.4 201.2M500.4 201.2L508.5 193.4M508.5 193.4L516.7 185.5M321.0 369.3L328.9 362.4M328.9 362.4L336.9 355.5M336.9 355.5L344.8 348.5M344.8 348.5L352.8 341.6M352.8 341.6L360.7 334.6M360.7 334.6L368.7 327.7M368.7 327.7L376.6 320.7M376.6 320.7L384.5 313.8M384.5 313.8L392.5 306.8M392.5 306.8L400.4 299.9M400.4 299.9L408.4 293.0M408.4 293.0L416.3 286.0M416.3 286.0L424.3 279.1M424.3 279.1L433.0 271.8M433.0 271.8L441.7 264.5M441.7 264.5L450.2 257.1M450.2 257.1L458.8 249.6M458.8 249.6L467.2 242.1M467.2 242.1L475.6 234.4M475.6 234.4L483.9 226.7M483.9 226.7L492.1 218.9M492.1 218.9L500.3 211.1M500.3 211.1L508.4 203.2M508.4 203.2L516.6 195.3M516.6 195.3L524.8 187.5M328.0 371.2L336.0 364.3M336.0 364.3L344.0 357.3M344.0 357.3L352.1 350.4M352.1 350.4L360.1 343.5M360.1 343.5L368.1 336.6M368.1 336.6L376.1 329.7M376.1 329.7L384.2 322.7M384.2 322.7L392.2 315.8M392.2 315.8L400.2 308.9M400.2 308.9L408.2 302.0M408.2 302.0L416.3 295.1M416.3 295.1L424.3 288.2M424.3 288.2L432.3 281.2M432.3 281.2L441.0 274.0M441.0 274.0L449.7 266.7M449.7 266.7L458.3 259.3M458.3 259.3L466.8 251.8M466.8 251.8L475.2 244.2M475.2 244.2L483.6 236.6M483.6 236.6L491.9 228.9M491.9 228.9L500.1 221.1M500.1 221.1L508.3 213.2M508.3 213.2L516.5 205.4M516.5 205.4L524.6 197.5M524.6 197.5L532.8 189.6M335.0 373.1L343.1 366.2M343.1 366.2L351.2 359.3M351.2 359.3L359.3 352.4M359.3 352.4L367.4 345.5M367.4 345.5L375.5 338.7M375.5 338.7L383.6 331.8M383.6 331.8L391.7 324.9M391.7 324.9L399.8 318.0M399.8 318.0L407.9 311.1M407.9 311.1L416.0 304.3M416.0 304.3L424.1 297.4M424.1 297.4L432.2 290.5M432.2 290.5L440.3 283.6M440.3 283.6L449.0 276.4M449.0 276.4L457.6 269.0M457.6 269.0L466.2 261.6M466.2 261.6L474.7 254.2M474.7 254.2L483.2 246.6M483.2 246.6L491.6 239.0M491.6 239.0L499.9 231.3M499.9 231.3L508.1 223.5M508.1 223.5L516.3 215.6M516.3 215.6L524.4 207.7M524.4 207.7L532.6 199.9M532.6 199.9L540.8 192.0M342.0 375.0L350.2 368.2M350.2 368.2L358.3 361.3M358.3 361.3L366.5 354.5M366.5 354.5L374.7 347.7M374.7 347.7L382.8 340.8M382.8 340.8L391.0 334.0M391.0 334.0L399.2 327.2M399.2 327.2L407.3 320.4M407.3 320.4L415.5 313.5M415.5 313.5L423.7 306.7M423.7 306.7L431.8 299.9M431.8 299.9L440.0 293.0M440.0 293.0L448.2 286.2M448.2 286.2L456.9 279.0M456.9 279.0L465.5 271.6M465.5 271.6L474.1 264.2M474.1 264.2L482.6 256.8M482.6 256.8L491.1 249.2M491.1 249.2L499.5 241.6M499.5 241.6L507.8 233.8M507.8 233.8L516.0 226.1M516.0 226.1L524.2 218.2M524.2 218.2L532.3 210.3M532.3 210.3L540.5 202.5M540.5 202.5L548.7 194.6" stroke="#00ff00" stroke-width="2.2"/>
<path d="M375.0 405.7L383.0 399.1M383.0 399.1L391.1 392.5M391.1 392.5L399.2 386.0M399.2 386.0L407.2 379.4M407.2 379.4L415.3 372.8M415.3 372.8L423.3 366.2M423.3 366.2L431.4 359.7M431.4 359.7L439.5 353.1M439.5 353.1L447.5 346.5M447.5 346.5L455.6 339.9M455.6 339.9L463.6 333.4M463.6 333.4L471.7 326.8M471.7 326.8L479.8 320.2M479.8 320.2L488.5 313.0M488.5 313.0L497.1 305.7M497.1 305.7L505.7 298.3M505.7 298.3L514.2 290.8M514.2 290.8L522.7 283.2M522.7 283.2L531.1 275.6M531.1 275.6L539.4 267.9M539.4 267.9L547.6 260.1M547.6 260.1L555.8 252.2M555.8 252.2L563.9 244.3M563.9 244.3L572.1 236.5M572.1 236.5L580.2 228.6M383.3 415.6L391.3 409.0M391.3 409.0L399.3 402.5M399.3 402.5L407.3 396.0M407.3 396.0L415.3 389.5M415.3 389.5L423.4 382.9M423.4 382.9L431.4 376.4M431.4 376.4L439.4 369.9M439.4 369.9L447.4 363.4M447.4 363.4L455.4 356.9M455.4 356.9L463.4 350.3M463.4 350.3L471.4 343.8M471.4 343.8L479.4 337.3M479.4 337.3L487.4 330.8M487.4 330.8L496.2 323.6M496.2 323.6L504.8 316.2M504.8 316.2L513.4 308.8M513.4 308.8L521.9 301.4M521.9 301.4L530.4 293.8M530.4 293.8L538.7 286.2M538.7 286.2L547.0 278.5M547.0 278.5L555.3 270.7M555.3 270.7L563.4 262.8M563.4 262.8L571.6 254.9M571.6 254.9L579.8 247.1M579.8 247.1L587.9 239.2M391.5 425.5L399.5 419.0M399.5 419.0L407.4 412.6M407.4 412.6L415.4 406.1M415.4 406.1L423.3 399.6M423.3 399.6L431.3 393.1M431.3 393.1L439.3 386.7M439.3 386.7L447.2 380.2M447.2 380.2L455.2 373.7M455.2 373.7L463.1 367.3M463.1 367.3L471.1 360.8M471.1 360.8L479.1 354.4M479.1 354.4L487.0 347.9M487.0 347.9L495.0 341.5M495.0 341.5L503.7 334.2M503.7 334.2L512.4 326.9M512.4 326.9L521.0 319.5M521.0 319.5L529.5 312.0M529.5 312.0L537.9 304.5M537.9 304.5L546.3 296.8M546.3 296.8L554.6 289.1M554.6 289.1L562.8 281.3M562.8 281.3L571.0 273.5M571.0 273.5L579.2 265.6M579.2 265.6L587.3 257.7M587.3 257.7L595.5 249.9M399.6 435.6L407.5 429.1M407.5 429.1L415.4 422.7M415.4 422.7L423.3 416.2M423.3 416.2L431.2 409.8M431.2 409.8L439.1 403.4M439.1 403.4L447.0 397.0M447.0 397.0L454.9 390.5M454.9 390.5L462.8 384.1M462.8 384.1L470.8 377.7M470.8 377.7L478.7 371.3M478.7 371.3L486.6 364.9M486.6 364.9L494.6 358.6M494.6 358.6L502.5 352.2M502.5 352.2L511.2 344.9M511.2 344.9L519.9 337.6M519.9 337.6L528.4 330.2M528.4 330.2L537.0 322.7M537.0 322.7L545.4 315.2M545.4 315.2L553.8 307.5M553.8 307.5L562.1 299.8M562.1 299.8L570.3 292.1M570.3 292.1L578.5 284.2M578.5 284.2L586.6 276.3M586.6 276.3L594.8 268.5M594.8 268.5L603.0 260.6M407.6 445.7L415.4 439.3M415.4 439.3L423.3 432.8M423.3 432.8L431.1 426.4M431.1 426.4L438.9 420.0M438.9 420.0L446.8 413.6M446.8 413.6L454.6 407.2M454.6 407.2L462.5 400.9M462.5 400.9L470.4 394.5M470.4 394.5L478.3 388.2M478.3 388.2L486.2 381.8M486.2 381.8L494.1 375.5M494.1 375.5L502.0 369.2M502.0 369.2L509.9 363.0M509.9 363.0L518.6 355.7M518.6 355.7L527.2 348.4M527.2 348.4L535.8 341.0M535.8 341.0L544.3 333.5M544.3 333.5L552.8 326.0M552.8 326.0L561.1 318.3M561.1 318.3L569.4 310.6M569.4 310.6L577.7 302.9M577.7 302.9L585.8 295.0M585.8 295.0L594.0 287.1M594.0 287.1L602.2 279.3M602.2 279.3L610.3 271.4M415.6 455.9L423.3 449.4M423.3 449.4L431.0 443.0M431.0 443.0L438.7 436.6M438.7 436.6L446.5 430.2M446.5 430.2L454.3 423.8M454.3 423.8L462.1 417.5M462.1 417.5L469.9 411.1M469.9 411.1L477.7 404.8M477.7 404.8L485.6 398.6M485.6 398.6L493.5 392.3M493.5 392.3L501.4 386.1M501.4 386.1L509.3 379.9M509.3 379.9L517.2 373.8M517.2 373.8L525.9 366.5M525.9 366.5L534.5 359.2M534.5 359.2L543.1 351.8M543.1 351.8L551.5 344.3M551.5 344.3L560.0 336.8M560.0 336.8L568.3 329.2M568.3 329.2L576.6 321.5M576.6 321.5L584.9 313.8M584.9 313.8L593.0 305.9M593.0 305.9L601.2 298.1M601.2 298.1L609.4 290.2M609.4 290.2L617.5 282.3M423.4 466.1L431.0 459.6M431.0 459.6L438.6 453.2M438.6 453.2L446.2 446.7M446.2 446.7L453.8 440.3M453.8 440.3L461.6 433.9M461.6 433.9L469.3 427.6M469.3 427.6L477.1 421.3M477.1 421.3L484.9 415.0M484.9 415.0L492.8 408.9M492.8 408.9L500.7 402.7M500.7 402.7L508.6 396.7M508.6 396.7L516.5 390.6M516.5 390.6L524.5 384.7M524.5 384.7L533.1 377.4M533.1 377.4L541.6 370.1M541.6 370.1L550.1 362.7M550.1 362.7L558.5 355.2M558.5 355.2L567.0 347.7M567.0 347.7L575.3 340.1M575.3 340.1L583.6 332.5M583.6 332.5L591.8 324.8M591.8 324.8L600.0 317.1M600.0 317.1L608.2 309.2M608.2 309.2L616.3 301.3M616.3 301.3L624.5 293.5M431.2 476.4L438.6 469.8M438.6 469.8L446.0 463.3M446.0 463.3L453.4 456.7M453.4 456.7L461.0 450.3M461.0 450.3L468.6 443.9M468.6 443.9L476.3 437.5M476.3 437.5L484.0 431.2M484.0 431.2L491.8 425.1M491.8 425.1L499.7 419.0M499.7 419.0L507.7 413.0M507.7 413.0L515.6 407.1M515.6 407.1L523.6 401.3M523.6 401.3L531.7 395.6M531.7 395.6L540.1 388.3M540.1 388.3L548.5 381.0M548.5 381.0L556.9 373.6M556.9 373.6L565.2 366.1M565.2 366.1L573.6 358.6M573.6 358.6L581.9 351.1M581.9 351.1L590.2 343.6M590.2 343.6L598.4 336.0M598.4 336.0L606.6 328.5M606.6 328.5L614.8 320.6M614.8 320.6L622.9 312.8M622.9 312.8L631.1 304.9M438.9 486.8L446.0 480.0M446.0 480.0L453.2 473.3M453.2 473.3L460.4 466.6M460.4 466.6L467.8 460.0M467.8 460.0L475.3 453.5M475.3 453.5L482.9 447.2M482.9 447.2L490.7 440.9M490.7 440.9L498.5 434.8M498.5 434.8L506.4 428.8M506.4 428.8L514.4 423.0M514.4 423.0L522.5 417.4M522.5 417.4L530.6 411.9M530.6 411.9L538.8 406.6M538.8 406.6L546.9 399.2M546.9 399.2L555.0 391.9M555.0 391.9L563.1 384.4M563.1 384.4L571.3 377.0M571.3 377.0L579.5 369.5M579.5 369.5L587.8 362.2M587.8 362.2L596.1 354.9M596.1 354.9L604.3 347.7M604.3 347.7L612.5 340.5M612.5 340.5L620.7 332.6M620.7 332.6L628.8 324.7M628.8 324.7L637.0 316.9M446.6 497.1L453.3 490.1M453.3 490.1L460.1 483.1M460.1 483.1L467.1 476.2M467.1 476.2L474.3 469.5M474.3 469.5L481.7 462.9M481.7 462.9L489.2 456.4M489.2 456.4L496.9 450.2M496.9 450.2L504.8 444.2M504.8 444.2L512.8 438.4M512.8 438.4L520.9 432.8M520.9 432.8L529.1 427.5M529.1 427.5L537.5 422.4M537.5 422.4L545.8 417.6M545.8 417.6L553.3 410.2M553.3 410.2L560.9 402.7M560.9 402.7L568.5 395.2M568.5 395.2L576.4 387.8M576.4 387.8L584.4 380.5M584.4 380.5L592.5 373.4M592.5 373.4L600.8 366.6M600.8 366.6L609.1 359.9M609.1 359.9L617.3 353.4M617.3 353.4L625.4 345.5M625.4 345.5L633.6 337.7M633.6 337.7L641.7 329.8M454.2 507.6L460.4 500.1M460.4 500.1L466.8 492.7M466.8 492.7L473.5 485.5M473.5 485.5L480.4 478.5M480.4 478.5L487.5 471.7M487.5 471.7L495.0 465.2M495.0 465.2L502.6 458.9M502.6 458.9L510.6 453.0M510.6 453.0L518.7 447.4M518.7 447.4L527.0 442.1M527.0 442.1L535.5 437.3M535.5 437.3L544.1 432.8M544.1 432.8L552.8 428.6M552.8 428.6L559.2 421.0M559.2 421.0L565.7 413.4M565.7 413.4L572.6 405.9M572.6 405.9L579.8 398.5M579.8 398.5L587.4 391.5M587.4 391.5L595.4 384.9M595.4 384.9L603.6 378.8M603.6 378.8L611.9 373.2M611.9 373.2L620.2 367.8M620.2 367.8L628.3 360.0M628.3 360.0L636.5 352.1M636.5 352.1L644.6 344.3M559.8 439.7L564.2 431.8M564.2 431.8L569.1 424.0M569.1 424.0L574.5 416.4M574.5 416.4L580.7 409.1M580.7 409.1L587.7 402.5M587.7 402.5L595.3 396.7M595.3 396.7L603.5 391.9M603.5 391.9L611.8 388.0M611.8 388.0L620.1 384.8M620.1 384.8L628.2 376.9M628.2 376.9L636.4 369.0M636.4 369.0L644.6 361.2" stroke="#00ff00" stroke-width="3.0"/>
<path d="M242.8 352.6L250.6 347.0M250.6 347.0L258.2 341.2M258.2 341.2L265.8 335.3M265.8 335.3L273.2 329.2M273.2 329.2L280.5 322.9M280.5 322.9L287.8 316.5M287.8 316.5L294.9 309.9M294.9 309.9L301.8 303.2M301.8 303.2L308.6 296.3M308.6 296.3L315.2 289.2M315.2 289.2L321.6 282.0M321.6 282.0L327.8 274.6M327.8 274.6L333.8 267.0M461.8 518.0L467.3 510.0M467.3 510.0L473.1 502.1M473.1 502.1L479.3 494.4M479.3 494.4L485.9 487.0M485.9 487.0L492.8 480.0M492.8 480.0L500.1 473.3M500.1 473.3L507.8 467.0M507.8 467.0L515.8 461.1M515.8 461.1L524.2 455.8M524.2 455.8L532.8 451.0M532.8 451.0L541.6 446.7M541.6 446.7L550.6 442.9M550.6 442.9L559.8 439.7" stroke="#30c060" stroke-width="2.0"/>
<path d="M379.5 229.0L390.2 226.5M373.6 226.8L386.5 222.0M386.5 222.0L397.8 219.2M397.8 219.2L407.8 217.8M407.8 217.8L417.2 217.3M417.2 217.3L426.0 217.4M426.0 217.4L434.6 218.0M434.6 218.0L443.0 218.9M443.0 218.9L451.3 220.0M451.3 220.0L459.5 221.4M459.5 221.4L467.7 223.0M467.7 223.0L475.8 224.8M562.1 299.8L569.4 310.6M569.4 310.6L576.6 321.5M576.6 321.5L583.6 332.5M583.6 332.5L590.2 343.6M590.2 343.6L596.1 354.9M596.1 354.9L600.8 366.6M600.8 366.6L603.6 378.8M603.6 378.8L603.5 391.9M603.5 391.9L598.6 406.4M370.5 228.3L379.3 220.0M379.3 220.0L393.3 214.8M393.3 214.8L405.1 211.8M405.1 211.8L415.6 210.2M415.6 210.2L425.1 209.6M425.1 209.6L434.1 209.7M434.1 209.7L442.8 210.2M442.8 210.2L451.2 211.1M451.2 211.1L459.5 212.3M459.5 212.3L467.7 213.6M467.7 213.6L475.9 215.2M475.9 215.2L484.0 217.0M484.0 217.0L492.1 218.9M492.1 218.9L500.1 221.1M500.1 221.1L508.1 223.5M508.1 223.5L516.0 226.1M516.0 226.1L523.8 228.9M555.3 270.7L562.8 281.3M562.8 281.3L570.3 292.1M570.3 292.1L577.7 302.9M577.7 302.9L584.9 313.8M584.9 313.8L591.8 324.8M591.8 324.8L598.4 336.0M598.4 336.0L604.3 347.7M604.3 347.7L609.1 359.9M609.1 359.9L611.9 373.2M611.9 373.2L611.8 388.0M611.8 388.0L607.0 405.3M373.8 221.6L384.4 212.8M500.3 211.1L508.3 213.2M508.3 213.2L516.3 215.6M516.3 215.6L524.2 218.2M524.2 218.2L532.0 221.0M555.8 252.2L563.4 262.8M563.4 262.8L571.0 273.5M571.0 273.5L578.5 284.2M578.5 284.2L585.8 295.0M585.8 295.0L593.0 305.9M593.0 305.9L600.0 317.1M600.0 317.1L606.6 328.5M606.6 328.5L612.5 340.5M612.5 340.5L617.3 353.4M617.3 353.4L620.2 367.8M620.2 367.8L620.1 384.8M620.1 384.8L615.4 405.5M563.9 244.3L571.6 254.9M571.6 254.9L579.2 265.6M579.2 265.6L586.6 276.3M586.6 276.3L594.0 287.1M594.0 287.1L601.2 298.1M601.2 298.1L608.2 309.2M608.2 309.2L614.8 320.6M614.8 320.6L620.7 332.6M620.7 332.6L625.4 345.5M625.4 345.5L628.3 360.0M628.3 360.0L628.2 376.9M628.2 376.9L623.6 397.6M572.1 236.5L579.8 247.1M579.8 247.1L587.3 257.7M587.3 257.7L594.8 268.5M594.8 268.5L602.2 279.3M602.2 279.3L609.4 290.2M609.4 290.2L616.3 301.3M616.3 301.3L622.9 312.8M622.9 312.8L628.8 324.7M628.8 324.7L633.6 337.7M633.6 337.7L636.5 352.1M636.5 352.1L636.4 369.0M636.4 369.0L631.7 389.8" stroke="#8a3800" stroke-width="1.0" stroke-linecap="butt"/>
<path d="M228.5 350.3L235.7 351.4M235.7 351.4L242.8 352.6M242.8 352.6L250.0 353.9M250.0 353.9L257.1 355.2M257.1 355.2L264.3 356.5M264.3 356.5L271.4 358.0M271.4 358.0L278.5 359.4M278.5 359.4L285.6 360.9M285.6 360.9L292.7 362.5M292.7 362.5L299.8 364.1M299.8 364.1L306.9 365.8M306.9 365.8L313.9 367.6M313.9 367.6L321.0 369.3M321.0 369.3L328.0 371.2M328.0 371.2L335.0 373.1M335.0 373.1L342.0 375.0M342.0 375.0L349.0 377.0M349.0 377.0L357.9 386.4M357.9 386.4L366.5 396.0M366.5 396.0L375.0 405.7M375.0 405.7L383.3 415.6M383.3 415.6L391.5 425.5M391.5 425.5L399.6 435.6M399.6 435.6L407.6 445.7M407.6 445.7L415.6 455.9M415.6 455.9L423.4 466.1M423.4 466.1L431.2 476.4M431.2 476.4L438.9 486.8M438.9 486.8L446.6 497.1M446.6 497.1L454.2 507.6M454.2 507.6L461.8 518.0M461.8 518.0L469.3 528.5" stroke="#8a5a00" stroke-width="1.0" stroke-linecap="butt"/>
<path d="M237.3 345.7L243.6 346.2M243.6 346.2L250.6 347.0M250.6 347.0L257.6 347.9M257.6 347.9L264.7 348.9M264.7 348.9L271.8 350.1M271.8 350.1L278.9 351.3M278.9 351.3L286.1 352.7M286.1 352.7L293.2 354.1M293.2 354.1L300.4 355.6M300.4 355.6L307.5 357.2M307.5 357.2L314.7 358.9M314.7 358.9L321.8 360.6M321.8 360.6L328.9 362.4M328.9 362.4L336.0 364.3M336.0 364.3L343.1 366.2M343.1 366.2L350.2 368.2M350.2 368.2L357.2 370.2M357.2 370.2L366.0 379.7M366.0 379.7L374.6 389.3M374.6 389.3L383.0 399.1M383.0 399.1L391.3 409.0M391.3 409.0L399.5 419.0M399.5 419.0L407.5 429.1M407.5 429.1L415.4 439.3M415.4 439.3L423.3 449.4M423.3 449.4L431.0 459.6M431.0 459.6L438.6 469.8M438.6 469.8L446.0 480.0M446.0 480.0L453.3 490.1M453.3 490.1L460.4 500.1M460.4 500.1L467.3 510.0M467.3 510.0L473.9 519.7M246.0 340.7L251.4 340.8M251.4 340.8L258.2 341.2M258.2 341.2L265.1 341.8M265.1 341.8L272.2 342.6M272.2 342.6L279.3 343.6M279.3 343.6L286.4 344.7M286.4 344.7L293.6 345.9M293.6 345.9L300.8 347.3M300.8 347.3L308.0 348.7M308.0 348.7L315.2 350.3M315.2 350.3L322.5 351.9M322.5 351.9L329.7 353.6M329.7 353.6L336.9 355.5M336.9 355.5L344.0 357.3M344.0 357.3L351.2 359.3M351.2 359.3L358.3 361.3M358.3 361.3L365.5 363.5M365.5 363.5L374.2 373.0M374.2 373.0L382.7 382.7M382.7 382.7L391.1 392.5M391.1 392.5L399.3 402.5M399.3 402.5L407.4 412.6M407.4 412.6L415.4 422.7M415.4 422.7L423.3 432.8M423.3 432.8L431.0 443.0M431.0 443.0L438.6 453.2M438.6 453.2L446.0 463.3M446.0 463.3L453.2 473.3M453.2 473.3L460.1 483.1M460.1 483.1L466.8 492.7M466.8 492.7L473.1 502.1M473.1 502.1L479.0 511.1M254.5 335.5L259.1 335.2M259.1 335.2L265.8 335.3M265.8 335.3L272.6 335.6M272.6 335.6L279.6 336.2M279.6 336.2L286.7 337.0M286.7 337.0L293.9 338.0M293.9 338.0L301.1 339.1M301.1 339.1L308.4 340.4M308.4 340.4L315.7 341.8M315.7 341.8L322.9 343.3M322.9 343.3L330.2 345.0M330.2 345.0L337.5 346.7M337.5 346.7L344.8 348.5M344.8 348.5L352.1 350.4M352.1 350.4L359.3 352.4M359.3 352.4L366.5 354.5M366.5 354.5L373.7 356.7M373.7 356.7L382.4 366.3M382.4 366.3L390.8 376.1M390.8 376.1L399.2 386.0M399.2 386.0L407.3 396.0M407.3 396.0L415.4 406.1M415.4 406.1L423.3 416.2M423.3 416.2L431.1 426.4M431.1 426.4L438.7 436.6M438.7 436.6L446.2 446.7M446.2 446.7L453.4 456.7M453.4 456.7L460.4 466.6M460.4 466.6L467.1 476.2M467.1 476.2L473.5 485.5M473.5 485.5L479.3 494.4M479.3 494.4L484.6 502.8M262.8 330.0L266.6 329.4M266.6 329.4L273.2 329.2M273.2 329.2L280.0 329.3M280.0 329.3L287.0 329.7M287.0 329.7L294.1 330.4M294.1 330.4L301.3 331.2M301.3 331.2L308.6 332.3M308.6 332.3L315.9 333.5M315.9 333.5L323.3 334.9M323.3 334.9L330.7 336.4M330.7 336.4L338.0 338.0M338.0 338.0L345.4 339.7M345.4 339.7L352.8 341.6M352.8 341.6L360.1 343.5M360.1 343.5L367.4 345.5M367.4 345.5L374.7 347.7M374.7 347.7L381.9 349.9M381.9 349.9L390.5 359.6M390.5 359.6L399.0 369.4M399.0 369.4L407.2 379.4M407.2 379.4L415.3 389.5M415.3 389.5L423.3 399.6M423.3 399.6L431.2 409.8M431.2 409.8L438.9 420.0M438.9 420.0L446.5 430.2M446.5 430.2L453.8 440.3M453.8 440.3L461.0 450.3M461.0 450.3L467.8 460.0M467.8 460.0L474.3 469.5M474.3 469.5L480.4 478.5M480.4 478.5L485.9 487.0M485.9 487.0L490.7 494.9M270.9 324.3L274.0 323.4M274.0 323.4L280.5 322.9M280.5 322.9L287.4 322.9M287.4 322.9L294.3 323.2M294.3 323.2L301.5 323.7M301.5 323.7L308.7 324.5M308.7 324.5L316.1 325.5M316.1 325.5L323.5 326.6M323.5 326.6L330.9 328.0M330.9 328.0L338.4 329.4M338.4 329.4L345.8 331.1M345.8 331.1L353.3 332.8M353.3 332.8L360.7 334.6M360.7 334.6L368.1 336.6M368.1 336.6L375.5 338.7M375.5 338.7L382.8 340.8M382.8 340.8L390.2 343.2M390.2 343.2L398.7 352.9M398.7 352.9L407.1 362.8M407.1 362.8L415.3 372.8M415.3 372.8L423.4 382.9M423.4 382.9L431.3 393.1M431.3 393.1L439.1 403.4M439.1 403.4L446.8 413.6M446.8 413.6L454.3 423.8M454.3 423.8L461.6 433.9M461.6 433.9L468.6 443.9M468.6 443.9L475.3 453.5M475.3 453.5L481.7 462.9M481.7 462.9L487.5 471.7M487.5 471.7L492.8 480.0M492.8 480.0L497.3 487.4M278.8 318.2L281.2 317.1M281.2 317.1L287.8 316.5M287.8 316.5L294.6 316.4M294.6 316.4L301.6 316.5M301.6 316.5L308.8 317.0M308.8 317.0L316.1 317.7M316.1 317.7L323.6 318.6M323.6 318.6L331.0 319.7M331.0 319.7L338.5 321.0M338.5 321.0L346.1 322.5M346.1 322.5L353.6 324.1M353.6 324.1L361.1 325.8M361.1 325.8L368.7 327.7M368.7 327.7L376.1 329.7M376.1 329.7L383.6 331.8M383.6 331.8L391.0 334.0M391.0 334.0L398.4 336.4M398.4 336.4L406.9 346.2M406.9 346.2L415.2 356.2M415.2 356.2L423.3 366.2M423.3 366.2L431.4 376.4M431.4 376.4L439.3 386.7M439.3 386.7L447.0 397.0M447.0 397.0L454.6 407.2M454.6 407.2L462.1 417.5M462.1 417.5L469.3 427.6M469.3 427.6L476.3 437.5M476.3 437.5L482.9 447.2M482.9 447.2L489.2 456.4M489.2 456.4L495.0 465.2M495.0 465.2L500.1 473.3M500.1 473.3L504.5 480.5M286.4 311.8L288.2 310.6M288.2 310.6L294.9 309.9M294.9 309.9L301.7 309.7M301.7 309.7L308.9 309.8M308.9 309.8L316.1 310.2M316.1 310.2L323.5 310.9M323.5 310.9L331.0 311.7M331.0 311.7L338.6 312.8M338.6 312.8L346.2 314.1M346.2 314.1L353.8 315.5M353.8 315.5L361.4 317.1M361.4 317.1L369.0 318.9M369.0 318.9L376.6 320.7M376.6 320.7L384.2 322.7M384.2 322.7L391.7 324.9M391.7 324.9L399.2 327.2M399.2 327.2L406.6 329.6M406.6 329.6L415.0 339.5M415.0 339.5L423.3 349.5M423.3 349.5L431.4 359.7M431.4 359.7L439.4 369.9M439.4 369.9L447.2 380.2M447.2 380.2L454.9 390.5M454.9 390.5L462.5 400.9M462.5 400.9L469.9 411.1M469.9 411.1L477.1 421.3M477.1 421.3L484.0 431.2M484.0 431.2L490.7 440.9M490.7 440.9L496.9 450.2M496.9 450.2L502.6 458.9M502.6 458.9L507.8 467.0M507.8 467.0L512.2 474.1M293.8 305.0L295.1 303.9M295.1 303.9L301.8 303.2M301.8 303.2L308.8 302.9M308.8 302.9L316.0 303.0M316.0 303.0L323.4 303.4M323.4 303.4L330.9 304.0M330.9 304.0L338.4 304.9M338.4 304.9L346.1 305.9M346.1 305.9L353.8 307.2M353.8 307.2L361.5 308.6M361.5 308.6L369.2 310.2M369.2 310.2L376.9 311.9M376.9 311.9L384.5 313.8M384.5 313.8L392.2 315.8M392.2 315.8L399.8 318.0M399.8 318.0L407.3 320.4M407.3 320.4L414.8 322.8M414.8 322.8L423.2 332.8M423.2 332.8L431.4 342.9M431.4 342.9L439.5 353.1M439.5 353.1L447.4 363.4M447.4 363.4L455.2 373.7M455.2 373.7L462.8 384.1M462.8 384.1L470.4 394.5M470.4 394.5L477.7 404.8M477.7 404.8L484.9 415.0M484.9 415.0L491.8 425.1M491.8 425.1L498.5 434.8M498.5 434.8L504.8 444.2M504.8 444.2L510.6 453.0M510.6 453.0L515.8 461.1M515.8 461.1L520.4 468.4M300.8 298.0L301.7 296.9M301.7 296.9L308.6 296.3M308.6 296.3L315.7 296.0M315.7 296.0L323.1 296.1M323.1 296.1L330.6 296.5M330.6 296.5L338.2 297.1M338.2 297.1L345.9 297.9M345.9 297.9L353.6 299.0M353.6 299.0L361.4 300.2M361.4 300.2L369.2 301.6M369.2 301.6L377.0 303.2M377.0 303.2L384.7 304.9M384.7 304.9L392.5 306.8M392.5 306.8L400.2 308.9M400.2 308.9L407.9 311.1M407.9 311.1L415.5 313.5M415.5 313.5L423.1 316.1M423.1 316.1L431.4 326.1M431.4 326.1L439.5 336.3M439.5 336.3L447.5 346.5M447.5 346.5L455.4 356.9M455.4 356.9L463.1 367.3M463.1 367.3L470.8 377.7M470.8 377.7L478.3 388.2M478.3 388.2L485.6 398.6M485.6 398.6L492.8 408.9M492.8 408.9L499.7 419.0M499.7 419.0L506.4 428.8M506.4 428.8L512.8 438.4M512.8 438.4L518.7 447.4M518.7 447.4L524.2 455.8M524.2 455.8L529.0 463.4M307.5 290.6L308.0 289.7M308.0 289.7L315.2 289.2M315.2 289.2L322.5 289.0M322.5 289.0L330.0 289.2M330.0 289.2L337.7 289.5M337.7 289.5L345.4 290.2M345.4 290.2L353.2 291.0M353.2 291.0L361.1 292.0M361.1 292.0L369.0 293.3M369.0 293.3L376.9 294.7M376.9 294.7L384.7 296.2M384.7 296.2L392.6 298.0M392.6 298.0L400.4 299.9M400.4 299.9L408.2 302.0M408.2 302.0L416.0 304.3M416.0 304.3L423.7 306.7M423.7 306.7L431.3 309.3M431.3 309.3L439.5 319.4M439.5 319.4L447.6 329.6M447.6 329.6L455.6 339.9M455.6 339.9L463.4 350.3M463.4 350.3L471.1 360.8M471.1 360.8L478.7 371.3M478.7 371.3L486.2 381.8M486.2 381.8L493.5 392.3M493.5 392.3L500.7 402.7M500.7 402.7L507.7 413.0M507.7 413.0L514.4 423.0M514.4 423.0L520.9 432.8M520.9 432.8L527.0 442.1M527.0 442.1L532.8 451.0M532.8 451.0L538.0 459.1M313.9 283.0L314.1 282.3M314.1 282.3L321.6 282.0M321.6 282.0L329.2 281.9M329.2 281.9L336.9 282.1M336.9 282.1L344.8 282.5M344.8 282.5L352.7 283.2M352.7 283.2L360.6 284.0M360.6 284.0L368.6 285.1M368.6 285.1L376.6 286.3M376.6 286.3L384.6 287.7M384.6 287.7L392.5 289.3M392.5 289.3L400.5 291.0M400.5 291.0L408.4 293.0M408.4 293.0L416.3 295.1M416.3 295.1L424.1 297.4M424.1 297.4L431.8 299.9M431.8 299.9L439.5 302.5M439.5 302.5L447.7 312.7M447.7 312.7L455.7 323.0M455.7 323.0L463.6 333.4M463.6 333.4L471.4 343.8M471.4 343.8L479.1 354.4M479.1 354.4L486.6 364.9M486.6 364.9L494.1 375.5M494.1 375.5L501.4 386.1M501.4 386.1L508.6 396.7M508.6 396.7L515.6 407.1M515.6 407.1L522.5 417.4M522.5 417.4L529.1 427.5M529.1 427.5L535.5 437.3M535.5 437.3L541.6 446.7M541.6 446.7L547.3 455.6M319.9 275.0L320.0 274.6M320.0 274.6L327.8 274.6M327.8 274.6L335.7 274.7M335.7 274.7L343.7 275.0M343.7 275.0L351.8 275.5M351.8 275.5L359.8 276.2M359.8 276.2L367.9 277.1M367.9 277.1L376.0 278.1M376.0 278.1L384.1 279.3M384.1 279.3L392.2 280.7M392.2 280.7L400.3 282.3M400.3 282.3L408.3 284.1M408.3 284.1L416.3 286.0M416.3 286.0L424.3 288.2M424.3 288.2L432.2 290.5M432.2 290.5L440.0 293.0M440.0 293.0L447.8 295.8M447.8 295.8L455.9 306.0M455.9 306.0L463.9 316.3M463.9 316.3L471.7 326.8M471.7 326.8L479.4 337.3M479.4 337.3L487.0 347.9M487.0 347.9L494.6 358.6M494.6 358.6L502.0 369.2M502.0 369.2L509.3 379.9M509.3 379.9L516.5 390.6M516.5 390.6L523.6 401.3M523.6 401.3L530.6 411.9M530.6 411.9L537.5 422.4M537.5 422.4L544.1 432.8M544.1 432.8L550.6 442.9M550.6 442.9L556.9 452.9M332.0 263.1L332.9 261.8M332.9 261.8L341.7 261.1M341.7 261.1L350.4 260.8M350.4 260.8L358.9 261.0M358.9 261.0L367.3 261.4M367.3 261.4L375.6 262.0M375.6 262.0L383.9 262.9M383.9 262.9L392.2 263.9M392.2 263.9L400.4 265.1M400.4 265.1L408.6 266.5M408.6 266.5L416.8 268.1M416.8 268.1L424.9 269.9M424.9 269.9L433.0 271.8M433.0 271.8L441.0 274.0M441.0 274.0L449.0 276.4M449.0 276.4L456.9 279.0M456.9 279.0L464.7 281.8M464.7 281.8L472.8 292.1M472.8 292.1L480.7 302.5M480.7 302.5L488.5 313.0M488.5 313.0L496.2 323.6M496.2 323.6L503.7 334.2M503.7 334.2L511.2 344.9M511.2 344.9L518.6 355.7M518.6 355.7L525.9 366.5M525.9 366.5L533.1 377.4M533.1 377.4L540.1 388.3M540.1 388.3L546.9 399.2M546.9 399.2L553.3 410.2M553.3 410.2L559.2 421.0M559.2 421.0L564.2 431.8M564.2 431.8L568.0 442.5M338.4 259.2L340.1 256.5M340.1 256.5L349.5 255.0M349.5 255.0L358.5 254.2M358.5 254.2L367.3 254.0M367.3 254.0L375.8 254.3M375.8 254.3L384.2 254.8M384.2 254.8L392.6 255.6M392.6 255.6L400.8 256.6M400.8 256.6L409.1 257.8M409.1 257.8L417.3 259.2M417.3 259.2L425.4 260.8M425.4 260.8L433.6 262.5M433.6 262.5L441.7 264.5M441.7 264.5L449.7 266.7M449.7 266.7L457.6 269.0M457.6 269.0L465.5 271.6M465.5 271.6L473.4 274.4M473.4 274.4L481.4 284.7M481.4 284.7L489.3 295.1M489.3 295.1L497.1 305.7M497.1 305.7L504.8 316.2M504.8 316.2L512.4 326.9M512.4 326.9L519.9 337.6M519.9 337.6L527.2 348.4M527.2 348.4L534.5 359.2M534.5 359.2L541.6 370.1M541.6 370.1L548.5 381.0M548.5 381.0L555.0 391.9M555.0 391.9L560.9 402.7M560.9 402.7L565.7 413.4M565.7 413.4L569.1 424.0M569.1 424.0L570.0 434.3M344.6 255.0L347.2 251.1M347.2 251.1L357.3 248.8M357.3 248.8L366.6 247.5M366.6 247.5L375.6 247.0M375.6 247.0L384.2 247.1M384.2 247.1L392.7 247.5M392.7 247.5L401.1 248.2M401.1 248.2L409.4 249.2M409.4 249.2L417.7 250.4M417.7 250.4L425.9 251.8M425.9 251.8L434.0 253.4M434.0 253.4L442.2 255.1M442.2 255.1L450.2 257.1M450.2 257.1L458.3 259.3M458.3 259.3L466.2 261.6M466.2 261.6L474.1 264.2M474.1 264.2L482.0 267.0M482.0 267.0L490.0 277.3M490.0 277.3L497.9 287.7M497.9 287.7L505.7 298.3M505.7 298.3L513.4 308.8M513.4 308.8L521.0 319.5M521.0 319.5L528.4 330.2M528.4 330.2L535.8 341.0M535.8 341.0L543.1 351.8M543.1 351.8L550.1 362.7M550.1 362.7L556.9 373.6M556.9 373.6L563.1 384.4M563.1 384.4L568.5 395.2M568.5 395.2L572.6 405.9M572.6 405.9L574.5 416.4M574.5 416.4L573.2 426.5M350.6 250.5L354.2 245.4M354.2 245.4L364.8 242.4M364.8 242.4L374.6 240.7M374.6 240.7L383.8 239.9M383.8 239.9L392.6 239.8M392.6 239.8L401.2 240.1M401.2 240.1L409.6 240.8M409.6 240.8L417.9 241.8M417.9 241.8L426.2 242.9M426.2 242.9L434.4 244.3M434.4 244.3L442.5 245.9M442.5 245.9L450.7 247.7M450.7 247.7L458.8 249.6M458.8 249.6L466.8 251.8M466.8 251.8L474.7 254.2M474.7 254.2L482.6 256.8M482.6 256.8L490.5 259.6M490.5 259.6L498.5 269.9M498.5 269.9L506.4 280.3M506.4 280.3L514.2 290.8M514.2 290.8L521.9 301.4M521.9 301.4L529.5 312.0M529.5 312.0L537.0 322.7M537.0 322.7L544.3 333.5M544.3 333.5L551.5 344.3M551.5 344.3L558.5 355.2M558.5 355.2L565.2 366.1M565.2 366.1L571.3 377.0M571.3 377.0L576.4 387.8M576.4 387.8L579.8 398.5M579.8 398.5L580.7 409.1M580.7 409.1L577.6 419.4M356.3 245.6L360.9 239.5M360.9 239.5L372.3 235.8M372.3 235.8L382.5 233.7M382.5 233.7L391.9 232.6M391.9 232.6L400.9 232.4M400.9 232.4L409.5 232.6M409.5 232.6L418.0 233.3M418.0 233.3L426.3 234.2M426.3 234.2L434.6 235.4M434.6 235.4L442.8 236.8M442.8 236.8L451.0 238.3M451.0 238.3L459.1 240.1M459.1 240.1L467.2 242.1M467.2 242.1L475.2 244.2M475.2 244.2L483.2 246.6M483.2 246.6L491.1 249.2M491.1 249.2L498.9 252.0M498.9 252.0L507.0 262.3M507.0 262.3L514.9 272.7M514.9 272.7L522.7 283.2M522.7 283.2L530.4 293.8M530.4 293.8L537.9 304.5M537.9 304.5L545.4 315.2M545.4 315.2L552.8 326.0M552.8 326.0L560.0 336.8M560.0 336.8L567.0 347.7M567.0 347.7L573.6 358.6M573.6 358.6L579.5 369.5M579.5 369.5L584.4 380.5M584.4 380.5L587.4 391.5M587.4 391.5L587.7 402.5M587.7 402.5L583.5 413.4M361.6 240.3L367.4 233.3M367.4 233.3L379.5 229.0M390.2 226.5L399.9 225.3M399.9 225.3L409.1 224.9M409.1 224.9L417.8 225.1M417.8 225.1L426.3 225.7M426.3 225.7L434.7 226.6M434.7 226.6L443.0 227.8M443.0 227.8L451.2 229.1M451.2 229.1L459.4 230.7M459.4 230.7L467.5 232.5M467.5 232.5L475.6 234.4M475.6 234.4L483.6 236.6M483.6 236.6L491.6 239.0M491.6 239.0L499.5 241.6M499.5 241.6L507.3 244.4M507.3 244.4L515.4 254.7M515.4 254.7L523.3 265.1M523.3 265.1L531.1 275.6M531.1 275.6L538.7 286.2M538.7 286.2L546.3 296.8M546.3 296.8L553.8 307.5M553.8 307.5L561.1 318.3M561.1 318.3L568.3 329.2M568.3 329.2L575.3 340.1M575.3 340.1L581.9 351.1M581.9 351.1L587.8 362.2M587.8 362.2L592.5 373.4M592.5 373.4L595.4 384.9M595.4 384.9L595.3 396.7M595.3 396.7L590.7 409.0M366.4 234.6L373.6 226.8M475.8 224.8L483.9 226.7M483.9 226.7L491.9 228.9M491.9 228.9L499.9 231.3M499.9 231.3L507.8 233.8M507.8 233.8L515.6 236.7M515.6 236.7L523.7 247.0M523.7 247.0L531.6 257.4M531.6 257.4L539.4 267.9M539.4 267.9L547.0 278.5M547.0 278.5L554.6 289.1M554.6 289.1L562.1 299.8M523.8 228.9L531.9 239.2M531.9 239.2L539.8 249.6M539.8 249.6L547.6 260.1M547.6 260.1L555.3 270.7M384.4 212.8L399.6 207.4M399.6 207.4L412.3 204.1M412.3 204.1L423.2 202.5M423.2 202.5L433.0 201.8M433.0 201.8L442.1 201.8M442.1 201.8L450.9 202.4M450.9 202.4L459.3 203.3M459.3 203.3L467.7 204.4M467.7 204.4L475.9 205.8M475.9 205.8L484.1 207.3M484.1 207.3L492.2 209.1M492.2 209.1L500.3 211.1M532.0 221.0L540.1 231.3M540.1 231.3L548.0 241.7M548.0 241.7L555.8 252.2M382.0 213.7L392.6 205.0M392.6 205.0L407.8 199.5M407.8 199.5L420.4 196.3M420.4 196.3L431.3 194.6M431.3 194.6L441.2 193.9M441.2 193.9L450.3 194.0M450.3 194.0L459.0 194.5M459.0 194.5L467.5 195.4M467.5 195.4L475.8 196.5M475.8 196.5L484.1 197.9M484.1 197.9L492.2 199.5M492.2 199.5L500.4 201.2M500.4 201.2L508.4 203.2M508.4 203.2L516.5 205.4M516.5 205.4L524.4 207.7M524.4 207.7L532.3 210.3M532.3 210.3L540.2 213.1M540.2 213.1L548.2 223.4M548.2 223.4L556.1 233.8M556.1 233.8L563.9 244.3M390.1 205.9L400.8 197.1M400.8 197.1L416.0 191.6M416.0 191.6L428.6 188.4M428.6 188.4L439.5 186.7M439.5 186.7L449.3 186.1M449.3 186.1L458.5 186.1M458.5 186.1L467.2 186.6M467.2 186.6L475.7 187.5M475.7 187.5L484.0 188.7M484.0 188.7L492.2 190.0M492.2 190.0L500.4 191.6M500.4 191.6L508.5 193.4M508.5 193.4L516.6 195.3M516.6 195.3L524.6 197.5M524.6 197.5L532.6 199.9M532.6 199.9L540.5 202.5M540.5 202.5L548.3 205.3M548.3 205.3L556.4 215.6M556.4 215.6L564.3 226.0M564.3 226.0L572.1 236.5" stroke="#f41c00" stroke-width="1.0" stroke-linecap="butt"/>
<path d="M242.8 352.6L250.6 347.0M250.6 347.0L258.2 341.2M258.2 341.2L265.8 335.3M265.8 335.3L273.2 329.2M273.2 329.2L280.5 322.9M280.5 322.9L287.8 316.5M287.8 316.5L294.9 309.9M294.9 309.9L301.8 303.2M301.8 303.2L308.6 296.3M308.6 296.3L315.2 289.2M315.2 289.2L321.6 282.0M321.6 282.0L327.8 274.6M327.8 274.6L333.8 267.0M461.8 518.0L467.3 510.0M467.3 510.0L473.1 502.1M473.1 502.1L479.3 494.4M479.3 494.4L485.9 487.0M485.9 487.0L492.8 480.0M492.8 480.0L500.1 473.3M500.1 473.3L507.8 467.0M507.8 467.0L515.8 461.1M515.8 461.1L524.2 455.8M524.2 455.8L532.8 451.0M532.8 451.0L541.6 446.7M541.6 446.7L550.6 442.9M550.6 442.9L559.8 439.7" stroke="#204838" stroke-width="1.1" stroke-linecap="butt"/>
<path d="M349.0 377.0L357.2 370.2M357.2 370.2L365.5 363.5M365.5 363.5L373.7 356.7M373.7 356.7L381.9 349.9M381.9 349.9L390.2 343.2M390.2 343.2L398.4 336.4M398.4 336.4L406.6 329.6M406.6 329.6L414.8 322.8M414.8 322.8L423.1 316.1M423.1 316.1L431.3 309.3M431.3 309.3L439.5 302.5M439.5 302.5L447.8 295.8M447.8 295.8L456.0 289.0M456.0 289.0L464.7 281.8M464.7 281.8L473.4 274.4M473.4 274.4L482.0 267.0M482.0 267.0L490.5 259.6M490.5 259.6L498.9 252.0M498.9 252.0L507.3 244.4M507.3 244.4L515.6 236.7M515.6 236.7L523.8 228.9M523.8 228.9L532.0 221.0M532.0 221.0L540.2 213.1M540.2 213.1L548.3 205.3M548.3 205.3L556.5 197.4M357.9 386.4L366.0 379.7M366.0 379.7L374.2 373.0M374.2 373.0L382.4 366.3M382.4 366.3L390.5 359.6M390.5 359.6L398.7 352.9M398.7 352.9L406.9 346.2M406.9 346.2L415.0 339.5M415.0 339.5L423.2 332.8M423.2 332.8L431.4 326.1M431.4 326.1L439.5 319.4M439.5 319.4L447.7 312.7M447.7 312.7L455.9 306.0M455.9 306.0L464.1 299.3M464.1 299.3L472.8 292.1M472.8 292.1L481.4 284.7M481.4 284.7L490.0 277.3M490.0 277.3L498.5 269.9M498.5 269.9L507.0 262.3M507.0 262.3L515.4 254.7M515.4 254.7L523.7 247.0M523.7 247.0L531.9 239.2M531.9 239.2L540.1 231.3M540.1 231.3L548.2 223.4M548.2 223.4L556.4 215.6M556.4 215.6L564.5 207.7M366.5 396.0L374.6 389.3M374.6 389.3L382.7 382.7M382.7 382.7L390.8 376.1M390.8 376.1L399.0 369.4M399.0 369.4L407.1 362.8M407.1 362.8L415.2 356.2M415.2 356.2L423.3 349.5M423.3 349.5L431.4 342.9M431.4 342.9L439.5 336.3M439.5 336.3L447.6 329.6M447.6 329.6L455.7 323.0M455.7 323.0L463.9 316.3M463.9 316.3L472.0 309.7M472.0 309.7L480.7 302.5M480.7 302.5L489.3 295.1M489.3 295.1L497.9 287.7M497.9 287.7L506.4 280.3M506.4 280.3L514.9 272.7M514.9 272.7L523.3 265.1M523.3 265.1L531.6 257.4M531.6 257.4L539.8 249.6M539.8 249.6L548.0 241.7M548.0 241.7L556.1 233.8M556.1 233.8L564.3 226.0M564.3 226.0L572.5 218.1" stroke="#3a0838" stroke-width="1.1" stroke-linecap="butt"/>
<path d="M235.7 351.4L243.6 346.2M243.6 346.2L251.4 340.8M251.4 340.8L259.1 335.2M259.1 335.2L266.6 329.4M266.6 329.4L274.0 323.4M274.0 323.4L281.2 317.1M281.2 317.1L288.2 310.6M288.2 310.6L295.1 303.9M295.1 303.9L301.7 296.9M301.7 296.9L308.0 289.7M308.0 289.7L314.1 282.3M314.1 282.3L320.0 274.6M320.0 274.6L325.5 266.8M325.5 266.8L332.9 261.8M332.9 261.8L340.1 256.5M340.1 256.5L347.2 251.1M347.2 251.1L354.2 245.4M354.2 245.4L360.9 239.5M360.9 239.5L367.4 233.3M367.4 233.3L373.6 226.8M373.6 226.8L379.3 220.0M379.3 220.0L384.4 212.8M384.4 212.8L392.6 205.0M392.6 205.0L400.8 197.1M400.8 197.1L408.9 189.2M333.8 267.0L341.7 261.1M341.7 261.1L349.5 255.0M349.5 255.0L357.3 248.8M357.3 248.8L364.8 242.4M364.8 242.4L372.3 235.8M372.3 235.8L379.5 229.0M379.5 229.0L386.5 222.0M386.5 222.0L393.3 214.8M393.3 214.8L399.6 207.4M399.6 207.4L407.8 199.5M407.8 199.5L416.0 191.6M416.0 191.6L424.1 183.8M250.0 353.9L257.6 347.9M257.6 347.9L265.1 341.8M265.1 341.8L272.6 335.6M272.6 335.6L280.0 329.3M280.0 329.3L287.4 322.9M287.4 322.9L294.6 316.4M294.6 316.4L301.7 309.7M301.7 309.7L308.8 302.9M308.8 302.9L315.7 296.0M315.7 296.0L322.5 289.0M322.5 289.0L329.2 281.9M329.2 281.9L335.7 274.7M335.7 274.7L342.1 267.3M342.1 267.3L350.4 260.8M350.4 260.8L358.5 254.2M358.5 254.2L366.6 247.5M366.6 247.5L374.6 240.7M374.6 240.7L382.5 233.7M382.5 233.7L390.2 226.5M390.2 226.5L397.8 219.2M397.8 219.2L405.1 211.8M405.1 211.8L412.3 204.1M412.3 204.1L420.4 196.3M420.4 196.3L428.6 188.4M428.6 188.4L436.7 180.6M257.1 355.2L264.7 348.9M264.7 348.9L272.2 342.6M272.2 342.6L279.6 336.2M279.6 336.2L287.0 329.7M287.0 329.7L294.3 323.2M294.3 323.2L301.6 316.5M301.6 316.5L308.9 309.8M308.9 309.8L316.0 303.0M316.0 303.0L323.1 296.1M323.1 296.1L330.0 289.2M330.0 289.2L336.9 282.1M336.9 282.1L343.7 275.0M343.7 275.0L350.4 267.8M350.4 267.8L358.9 261.0M358.9 261.0L367.3 254.0M367.3 254.0L375.6 247.0M375.6 247.0L383.8 239.9M383.8 239.9L391.9 232.6M391.9 232.6L399.9 225.3M399.9 225.3L407.8 217.8M407.8 217.8L415.6 210.2M415.6 210.2L423.2 202.5M423.2 202.5L431.3 194.6M431.3 194.6L439.5 186.7M439.5 186.7L447.7 178.9M264.3 356.5L271.8 350.1M271.8 350.1L279.3 343.6M279.3 343.6L286.7 337.0M286.7 337.0L294.1 330.4M294.1 330.4L301.5 323.7M301.5 323.7L308.8 317.0M308.8 317.0L316.1 310.2M316.1 310.2L323.4 303.4M323.4 303.4L330.6 296.5M330.6 296.5L337.7 289.5M337.7 289.5L344.8 282.5M344.8 282.5L351.8 275.5M351.8 275.5L358.7 268.4M358.7 268.4L367.3 261.4M367.3 261.4L375.8 254.3M375.8 254.3L384.2 247.1M384.2 247.1L392.6 239.8M392.6 239.8L400.9 232.4M400.9 232.4L409.1 224.9M409.1 224.9L417.2 217.3M417.2 217.3L425.1 209.6M425.1 209.6L433.0 201.8M433.0 201.8L441.2 193.9M441.2 193.9L449.3 186.1M449.3 186.1L457.5 178.2M271.4 358.0L278.9 351.3M278.9 351.3L286.4 344.7M286.4 344.7L293.9 338.0M293.9 338.0L301.3 331.2M301.3 331.2L308.7 324.5M308.7 324.5L316.1 317.7M316.1 317.7L323.5 310.9M323.5 310.9L330.9 304.0M330.9 304.0L338.2 297.1M338.2 297.1L345.4 290.2M345.4 290.2L352.7 283.2M352.7 283.2L359.8 276.2M359.8 276.2L367.0 269.1M367.0 269.1L375.6 262.0M375.6 262.0L384.2 254.8M384.2 254.8L392.7 247.5M392.7 247.5L401.2 240.1M401.2 240.1L409.5 232.6M409.5 232.6L417.8 225.1M417.8 225.1L426.0 217.4M426.0 217.4L434.1 209.7M434.1 209.7L442.1 201.8M442.1 201.8L450.3 194.0M450.3 194.0L458.5 186.1M458.5 186.1L466.6 178.3M278.5 359.4L286.1 352.7M286.1 352.7L293.6 345.9M293.6 345.9L301.1 339.1M301.1 339.1L308.6 332.3M308.6 332.3L316.1 325.5M316.1 325.5L323.6 318.6M323.6 318.6L331.0 311.7M331.0 311.7L338.4 304.9M338.4 304.9L345.9 297.9M345.9 297.9L353.2 291.0M353.2 291.0L360.6 284.0M360.6 284.0L367.9 277.1M367.9 277.1L375.3 270.1M375.3 270.1L383.9 262.9M383.9 262.9L392.6 255.6M392.6 255.6L401.1 248.2M401.1 248.2L409.6 240.8M409.6 240.8L418.0 233.3M418.0 233.3L426.3 225.7M426.3 225.7L434.6 218.0M434.6 218.0L442.8 210.2M442.8 210.2L450.9 202.4M450.9 202.4L459.0 194.5M459.0 194.5L467.2 186.6M467.2 186.6L475.3 178.8M285.6 360.9L293.2 354.1M293.2 354.1L300.8 347.3M300.8 347.3L308.4 340.4M308.4 340.4L315.9 333.5M315.9 333.5L323.5 326.6M323.5 326.6L331.0 319.7M331.0 319.7L338.6 312.8M338.6 312.8L346.1 305.9M346.1 305.9L353.6 299.0M353.6 299.0L361.1 292.0M361.1 292.0L368.6 285.1M368.6 285.1L376.0 278.1M376.0 278.1L383.5 271.1M383.5 271.1L392.2 263.9M392.2 263.9L400.8 256.6M400.8 256.6L409.4 249.2M409.4 249.2L417.9 241.8M417.9 241.8L426.3 234.2M426.3 234.2L434.7 226.6M434.7 226.6L443.0 218.9M443.0 218.9L451.2 211.1M451.2 211.1L459.3 203.3M459.3 203.3L467.5 195.4M467.5 195.4L475.7 187.5M475.7 187.5L483.8 179.7M292.7 362.5L300.4 355.6M300.4 355.6L308.0 348.7M308.0 348.7L315.7 341.8M315.7 341.8L323.3 334.9M323.3 334.9L330.9 328.0M330.9 328.0L338.5 321.0M338.5 321.0L346.2 314.1M346.2 314.1L353.8 307.2M353.8 307.2L361.4 300.2M361.4 300.2L369.0 293.3M369.0 293.3L376.6 286.3M376.6 286.3L384.1 279.3M384.1 279.3L391.7 272.3M391.7 272.3L400.4 265.1M400.4 265.1L409.1 257.8M409.1 257.8L417.7 250.4M417.7 250.4L426.2 242.9M426.2 242.9L434.6 235.4M434.6 235.4L443.0 227.8M443.0 227.8L451.3 220.0M451.3 220.0L459.5 212.3M459.5 212.3L467.7 204.4M467.7 204.4L475.8 196.5M475.8 196.5L484.0 188.7M484.0 188.7L492.1 180.8M299.8 364.1L307.5 357.2M307.5 357.2L315.2 350.3M315.2 350.3L322.9 343.3M322.9 343.3L330.7 336.4M330.7 336.4L338.4 329.4M338.4 329.4L346.1 322.5M346.1 322.5L353.8 315.5M353.8 315.5L361.5 308.6M361.5 308.6L369.2 301.6M369.2 301.6L376.9 294.7M376.9 294.7L384.6 287.7M384.6 287.7L392.2 280.7M392.2 280.7L399.9 273.8M399.9 273.8L408.6 266.5M408.6 266.5L417.3 259.2M417.3 259.2L425.9 251.8M425.9 251.8L434.4 244.3M434.4 244.3L442.8 236.8M442.8 236.8L451.2 229.1M451.2 229.1L459.5 221.4M459.5 221.4L467.7 213.6M467.7 213.6L475.9 205.8M475.9 205.8L484.1 197.9M484.1 197.9L492.2 190.0M492.2 190.0L500.4 182.2M306.9 365.8L314.7 358.9M314.7 358.9L322.5 351.9M322.5 351.9L330.2 345.0M330.2 345.0L338.0 338.0M338.0 338.0L345.8 331.1M345.8 331.1L353.6 324.1M353.6 324.1L361.4 317.1M361.4 317.1L369.2 310.2M369.2 310.2L377.0 303.2M377.0 303.2L384.7 296.2M384.7 296.2L392.5 289.3M392.5 289.3L400.3 282.3M400.3 282.3L408.1 275.3M408.1 275.3L416.8 268.1M416.8 268.1L425.4 260.8M425.4 260.8L434.0 253.4M434.0 253.4L442.5 245.9M442.5 245.9L451.0 238.3M451.0 238.3L459.4 230.7M459.4 230.7L467.7 223.0M467.7 223.0L475.9 215.2M475.9 215.2L484.1 207.3M484.1 207.3L492.2 199.5M492.2 199.5L500.4 191.6M500.4 191.6L508.6 183.7M313.9 367.6L321.8 360.6M321.8 360.6L329.7 353.6M329.7 353.6L337.5 346.7M337.5 346.7L345.4 339.7M345.4 339.7L353.3 332.8M353.3 332.8L361.1 325.8M361.1 325.8L369.0 318.9M369.0 318.9L376.9 311.9M376.9 311.9L384.7 304.9M384.7 304.9L392.6 298.0M392.6 298.0L400.5 291.0M400.5 291.0L408.3 284.1M408.3 284.1L416.2 277.1M416.2 277.1L424.9 269.9M424.9 269.9L433.6 262.5M433.6 262.5L442.2 255.1M442.2 255.1L450.7 247.7M450.7 247.7L459.1 240.1M459.1 240.1L467.5 232.5M467.5 232.5L475.8 224.8M475.8 224.8L484.0 217.0M484.0 217.0L492.2 209.1M492.2 209.1L500.4 201.2M500.4 201.2L508.5 193.4M508.5 193.4L516.7 185.5M321.0 369.3L328.9 362.4M328.9 362.4L336.9 355.5M336.9 355.5L344.8 348.5M344.8 348.5L352.8 341.6M352.8 341.6L360.7 334.6M360.7 334.6L368.7 327.7M368.7 327.7L376.6 320.7M376.6 320.7L384.5 313.8M384.5 313.8L392.5 306.8M392.5 306.8L400.4 299.9M400.4 299.9L408.4 293.0M408.4 293.0L416.3 286.0M416.3 286.0L424.3 279.1M424.3 279.1L433.0 271.8M433.0 271.8L441.7 264.5M441.7 264.5L450.2 257.1M450.2 257.1L458.8 249.6M458.8 249.6L467.2 242.1M467.2 242.1L475.6 234.4M475.6 234.4L483.9 226.7M483.9 226.7L492.1 218.9M492.1 218.9L500.3 211.1M500.3 211.1L508.4 203.2M508.4 203.2L516.6 195.3M516.6 195.3L524.8 187.5M328.0 371.2L336.0 364.3M336.0 364.3L344.0 357.3M344.0 357.3L352.1 350.4M352.1 350.4L360.1 343.5M360.1 343.5L368.1 336.6M368.1 336.6L376.1 329.7M376.1 329.7L384.2 322.7M384.2 322.7L392.2 315.8M392.2 315.8L400.2 308.9M400.2 308.9L408.2 302.0M408.2 302.0L416.3 295.1M416.3 295.1L424.3 288.2M424.3 288.2L432.3 281.2M432.3 281.2L441.0 274.0M441.0 274.0L449.7 266.7M449.7 266.7L458.3 259.3M458.3 259.3L466.8 251.8M466.8 251.8L475.2 244.2M475.2 244.2L483.6 236.6M483.6 236.6L491.9 228.9M491.9 228.9L500.1 221.1M500.1 221.1L508.3 213.2M508.3 213.2L516.5 205.4M516.5 205.4L524.6 197.5M524.6 197.5L532.8 189.6M335.0 373.1L343.1 366.2M343.1 366.2L351.2 359.3M351.2 359.3L359.3 352.4M359.3 352.4L367.4 345.5M367.4 345.5L375.5 338.7M375.5 338.7L383.6 331.8M383.6 331.8L391.7 324.9M391.7 324.9L399.8 318.0M399.8 318.0L407.9 311.1M407.9 311.1L416.0 304.3M416.0 304.3L424.1 297.4M424.1 297.4L432.2 290.5M432.2 290.5L440.3 283.6M440.3 283.6L449.0 276.4M449.0 276.4L457.6 269.0M457.6 269.0L466.2 261.6M466.2 261.6L474.7 254.2M474.7 254.2L483.2 246.6M483.2 246.6L491.6 239.0M491.6 239.0L499.9 231.3M499.9 231.3L508.1 223.5M508.1 223.5L516.3 215.6M516.3 215.6L524.4 207.7M524.4 207.7L532.6 199.9M532.6 199.9L540.8 192.0M342.0 375.0L350.2 368.2M350.2 368.2L358.3 361.3M358.3 361.3L366.5 354.5M366.5 354.5L374.7 347.7M374.7 347.7L382.8 340.8M382.8 340.8L391.0 334.0M391.0 334.0L399.2 327.2M399.2 327.2L407.3 320.4M407.3 320.4L415.5 313.5M415.5 313.5L423.7 306.7M423.7 306.7L431.8 299.9M431.8 299.9L440.0 293.0M440.0 293.0L448.2 286.2M448.2 286.2L456.9 279.0M456.9 279.0L465.5 271.6M465.5 271.6L474.1 264.2M474.1 264.2L482.6 256.8M482.6 256.8L491.1 249.2M491.1 249.2L499.5 241.6M499.5 241.6L507.8 233.8M507.8 233.8L516.0 226.1M516.0 226.1L524.2 218.2M524.2 218.2L532.3 210.3M532.3 210.3L540.5 202.5M540.5 202.5L548.7 194.6" stroke="#8a3800" stroke-width="0.8" stroke-linecap="butt"/>
<path d="M375.0 405.7L383.0 399.1M383.0 399.1L391.1 392.5M391.1 392.5L399.2 386.0M399.2 386.0L407.2 379.4M407.2 379.4L415.3 372.8M415.3 372.8L423.3 366.2M423.3 366.2L431.4 359.7M431.4 359.7L439.5 353.1M439.5 353.1L447.5 346.5M447.5 346.5L455.6 339.9M455.6 339.9L463.6 333.4M463.6 333.4L471.7 326.8M471.7 326.8L479.8 320.2M479.8 320.2L488.5 313.0M488.5 313.0L497.1 305.7M497.1 305.7L505.7 298.3M505.7 298.3L514.2 290.8M514.2 290.8L522.7 283.2M522.7 283.2L531.1 275.6M531.1 275.6L539.4 267.9M539.4 267.9L547.6 260.1M547.6 260.1L555.8 252.2M555.8 252.2L563.9 244.3M563.9 244.3L572.1 236.5M572.1 236.5L580.2 228.6M383.3 415.6L391.3 409.0M391.3 409.0L399.3 402.5M399.3 402.5L407.3 396.0M407.3 396.0L415.3 389.5M415.3 389.5L423.4 382.9M423.4 382.9L431.4 376.4M431.4 376.4L439.4 369.9M439.4 369.9L447.4 363.4M447.4 363.4L455.4 356.9M455.4 356.9L463.4 350.3M463.4 350.3L471.4 343.8M471.4 343.8L479.4 337.3M479.4 337.3L487.4 330.8M487.4 330.8L496.2 323.6M496.2 323.6L504.8 316.2M504.8 316.2L513.4 308.8M513.4 308.8L521.9 301.4M521.9 301.4L530.4 293.8M530.4 293.8L538.7 286.2M538.7 286.2L547.0 278.5M547.0 278.5L555.3 270.7M555.3 270.7L563.4 262.8M563.4 262.8L571.6 254.9M571.6 254.9L579.8 247.1M579.8 247.1L587.9 239.2M391.5 425.5L399.5 419.0M399.5 419.0L407.4 412.6M407.4 412.6L415.4 406.1M415.4 406.1L423.3 399.6M423.3 399.6L431.3 393.1M431.3 393.1L439.3 386.7M439.3 386.7L447.2 380.2M447.2 380.2L455.2 373.7M455.2 373.7L463.1 367.3M463.1 367.3L471.1 360.8M471.1 360.8L479.1 354.4M479.1 354.4L487.0 347.9M487.0 347.9L495.0 341.5M495.0 341.5L503.7 334.2M503.7 334.2L512.4 326.9M512.4 326.9L521.0 319.5M521.0 319.5L529.5 312.0M529.5 312.0L537.9 304.5M537.9 304.5L546.3 296.8M546.3 296.8L554.6 289.1M554.6 289.1L562.8 281.3M562.8 281.3L571.0 273.5M571.0 273.5L579.2 265.6M579.2 265.6L587.3 257.7M587.3 257.7L595.5 249.9M399.6 435.6L407.5 429.1M407.5 429.1L415.4 422.7M415.4 422.7L423.3 416.2M423.3 416.2L431.2 409.8M431.2 409.8L439.1 403.4M439.1 403.4L447.0 397.0M447.0 397.0L454.9 390.5M454.9 390.5L462.8 384.1M462.8 384.1L470.8 377.7M470.8 377.7L478.7 371.3M478.7 371.3L486.6 364.9M486.6 364.9L494.6 358.6M494.6 358.6L502.5 352.2M502.5 352.2L511.2 344.9M511.2 344.9L519.9 337.6M519.9 337.6L528.4 330.2M528.4 330.2L537.0 322.7M537.0 322.7L545.4 315.2M545.4 315.2L553.8 307.5M553.8 307.5L562.1 299.8M562.1 299.8L570.3 292.1M570.3 292.1L578.5 284.2M578.5 284.2L586.6 276.3M586.6 276.3L594.8 268.5M594.8 268.5L603.0 260.6M407.6 445.7L415.4 439.3M415.4 439.3L423.3 432.8M423.3 432.8L431.1 426.4M431.1 426.4L438.9 420.0M438.9 420.0L446.8 413.6M446.8 413.6L454.6 407.2M454.6 407.2L462.5 400.9M462.5 400.9L470.4 394.5M470.4 394.5L478.3 388.2M478.3 388.2L486.2 381.8M486.2 381.8L494.1 375.5M494.1 375.5L502.0 369.2M502.0 369.2L509.9 363.0M509.9 363.0L518.6 355.7M518.6 355.7L527.2 348.4M527.2 348.4L535.8 341.0M535.8 341.0L544.3 333.5M544.3 333.5L552.8 326.0M552.8 326.0L561.1 318.3M561.1 318.3L569.4 310.6M569.4 310.6L577.7 302.9M577.7 302.9L585.8 295.0M585.8 295.0L594.0 287.1M594.0 287.1L602.2 279.3M602.2 279.3L610.3 271.4M415.6 455.9L423.3 449.4M423.3 449.4L431.0 443.0M431.0 443.0L438.7 436.6M438.7 436.6L446.5 430.2M446.5 430.2L454.3 423.8M454.3 423.8L462.1 417.5M462.1 417.5L469.9 411.1M469.9 411.1L477.7 404.8M477.7 404.8L485.6 398.6M485.6 398.6L493.5 392.3M493.5 392.3L501.4 386.1M501.4 386.1L509.3 379.9M509.3 379.9L517.2 373.8M517.2 373.8L525.9 366.5M525.9 366.5L534.5 359.2M534.5 359.2L543.1 351.8M543.1 351.8L551.5 344.3M551.5 344.3L560.0 336.8M560.0 336.8L568.3 329.2M568.3 329.2L576.6 321.5M576.6 321.5L584.9 313.8M584.9 313.8L593.0 305.9M593.0 305.9L601.2 298.1M601.2 298.1L609.4 290.2M609.4 290.2L617.5 282.3M423.4 466.1L431.0 459.6M431.0 459.6L438.6 453.2M438.6 453.2L446.2 446.7M446.2 446.7L453.8 440.3M453.8 440.3L461.6 433.9M461.6 433.9L469.3 427.6M469.3 427.6L477.1 421.3M477.1 421.3L484.9 415.0M484.9 415.0L492.8 408.9M492.8 408.9L500.7 402.7M500.7 402.7L508.6 396.7M508.6 396.7L516.5 390.6M516.5 390.6L524.5 384.7M524.5 384.7L533.1 377.4M533.1 377.4L541.6 370.1M541.6 370.1L550.1 362.7M550.1 362.7L558.5 355.2M558.5 355.2L567.0 347.7M567.0 347.7L575.3 340.1M575.3 340.1L583.6 332.5M583.6 332.5L591.8 324.8M591.8 324.8L600.0 317.1M600.0 317.1L608.2 309.2M608.2 309.2L616.3 301.3M616.3 301.3L624.5 293.5M431.2 476.4L438.6 469.8M438.6 469.8L446.0 463.3M446.0 463.3L453.4 456.7M453.4 456.7L461.0 450.3M461.0 450.3L468.6 443.9M468.6 443.9L476.3 437.5M476.3 437.5L484.0 431.2M484.0 431.2L491.8 425.1M491.8 425.1L499.7 419.0M499.7 419.0L507.7 413.0M507.7 413.0L515.6 407.1M515.6 407.1L523.6 401.3M523.6 401.3L531.7 395.6M531.7 395.6L540.1 388.3M540.1 388.3L548.5 381.0M548.5 381.0L556.9 373.6M556.9 373.6L565.2 366.1M565.2 366.1L573.6 358.6M573.6 358.6L581.9 351.1M581.9 351.1L590.2 343.6M590.2 343.6L598.4 336.0M598.4 336.0L606.6 328.5M606.6 328.5L614.8 320.6M614.8 320.6L622.9 312.8M622.9 312.8L631.1 304.9M438.9 486.8L446.0 480.0M446.0 480.0L453.2 473.3M453.2 473.3L460.4 466.6M460.4 466.6L467.8 460.0M467.8 460.0L475.3 453.5M475.3 453.5L482.9 447.2M482.9 447.2L490.7 440.9M490.7 440.9L498.5 434.8M498.5 434.8L506.4 428.8M506.4 428.8L514.4 423.0M514.4 423.0L522.5 417.4M522.5 417.4L530.6 411.9M530.6 411.9L538.8 406.6M538.8 406.6L546.9 399.2M546.9 399.2L555.0 391.9M555.0 391.9L563.1 384.4M563.1 384.4L571.3 377.0M571.3 377.0L579.5 369.5M579.5 369.5L587.8 362.2M587.8 362.2L596.1 354.9M596.1 354.9L604.3 347.7M604.3 347.7L612.5 340.5M612.5 340.5L620.7 332.6M620.7 332.6L628.8 324.7M628.8 324.7L637.0 316.9M446.6 497.1L453.3 490.1M453.3 490.1L460.1 483.1M460.1 483.1L467.1 476.2M467.1 476.2L474.3 469.5M474.3 469.5L481.7 462.9M481.7 462.9L489.2 456.4M489.2 456.4L496.9 450.2M496.9 450.2L504.8 444.2M504.8 444.2L512.8 438.4M512.8 438.4L520.9 432.8M520.9 432.8L529.1 427.5M529.1 427.5L537.5 422.4M537.5 422.4L545.8 417.6M545.8 417.6L553.3 410.2M553.3 410.2L560.9 402.7M560.9 402.7L568.5 395.2M568.5 395.2L576.4 387.8M576.4 387.8L584.4 380.5M584.4 380.5L592.5 373.4M592.5 373.4L600.8 366.6M600.8 366.6L609.1 359.9M609.1 359.9L617.3 353.4M617.3 353.4L625.4 345.5M625.4 345.5L633.6 337.7M633.6 337.7L641.7 329.8M454.2 507.6L460.4 500.1M460.4 500.1L466.8 492.7M466.8 492.7L473.5 485.5M473.5 485.5L480.4 478.5M480.4 478.5L487.5 471.7M487.5 471.7L495.0 465.2M495.0 465.2L502.6 458.9M502.6 458.9L510.6 453.0M510.6 453.0L518.7 447.4M518.7 447.4L527.0 442.1M527.0 442.1L535.5 437.3M535.5 437.3L544.1 432.8M544.1 432.8L552.8 428.6M552.8 428.6L559.2 421.0M559.2 421.0L565.7 413.4M565.7 413.4L572.6 405.9M572.6 405.9L579.8 398.5M579.8 398.5L587.4 391.5M587.4 391.5L595.4 384.9M595.4 384.9L603.6 378.8M603.6 378.8L611.9 373.2M611.9 373.2L620.2 367.8M620.2 367.8L628.3 360.0M628.3 360.0L636.5 352.1M636.5 352.1L644.6 344.3M559.8 439.7L564.2 431.8M564.2 431.8L569.1 424.0M569.1 424.0L574.5 416.4M574.5 416.4L580.7 409.1M580.7 409.1L587.7 402.5M587.7 402.5L595.3 396.7M595.3 396.7L603.5 391.9M603.5 391.9L611.8 388.0M611.8 388.0L620.1 384.8M620.1 384.8L628.2 376.9M628.2 376.9L636.4 369.0M636.4 369.0L644.6 361.2" stroke="#8a3800" stroke-width="0.9" stroke-linecap="butt"/>
</g>
<g fill="none" stroke-linecap="round" stroke-linejoin="round">
<path d="M325.5 266.8L325.5 266.8L333.8 267.0L342.1 267.3L350.4 267.8L358.7 268.4L367.0 269.1L375.3 270.1L383.5 271.1L391.7 272.3L399.9 273.8L408.1 275.3L416.2 277.1L424.3 279.1L432.3 281.2L440.3 283.6L448.2 286.2L456.0 289.0L464.1 299.3L472.0 309.7L479.8 320.2L487.4 330.8L495.0 341.5L502.5 352.2L509.9 363.0L517.2 373.8L524.5 384.7L531.7 395.6L538.8 406.6L545.8 417.6L552.8 428.6L559.8 439.7L566.7 450.8" stroke="#ff2800" stroke-width="3.4"/>
<path d="M228.5 350.3L237.3 345.7L246.0 340.7L254.5 335.5L262.8 330.0L270.9 324.3L278.8 318.2L286.4 311.8L293.8 305.0L300.8 298.0L307.5 290.6L313.9 283.0L319.9 275.0L325.5 266.8" stroke="#ff3c00" stroke-width="4.6"/>
<path d="M469.3 528.5L473.9 519.7L479.0 511.1L484.6 502.8L490.7 494.9L497.3 487.4L504.5 480.5L512.2 474.1L520.4 468.4L529.0 463.4L538.0 459.1L547.3 455.6L556.9 452.9L566.7 450.8" stroke="#ff3c00" stroke-width="4.6"/>
<path d="M325.5 266.8L328.0 265.4L330.4 264.1L332.8 262.6L335.2 261.2L337.6 259.7L340.0 258.2L342.3 256.6L344.6 255.0L346.9 253.4L349.1 251.7L351.3 249.9L353.5 248.1L355.6 246.2L357.6 244.3L359.6 242.4L361.6 240.3L363.4 238.2L365.2 236.0L366.9 233.8L368.5 231.5L370.0 229.1L371.4 226.7L372.7 224.2L373.8 221.6" stroke="#10e000" stroke-width="1.6"/>
<path d="M566.7 450.8L567.1 447.7L567.6 444.5L568.2 441.4L568.9 438.4L569.7 435.3L570.7 432.3L571.9 429.4L573.2 426.5L574.7 423.7L576.4 421.1L578.3 418.6L580.4 416.2L582.7 414.0L585.2 412.1L587.8 410.4L590.7 409.0L593.6 407.8L596.6 406.9L599.7 406.2L602.8 405.7L605.9 405.4L609.1 405.3L612.2 405.3L615.4 405.5" stroke="#10e000" stroke-width="1.6"/>
<path d="M482.9 220.1L495.1 221.2L507.4 222.1L519.6 222.8L531.9 223.4" stroke="#ff7a00" stroke-width="2.4"/>
<path d="M529.8 221.9L536.1 238.4L543.3 254.6L551.5 270.3L560.6 285.5" stroke="#ff7a00" stroke-width="2.6"/>
<path d="M446.6 213.5L458.8 215.1L470.9 216.5L483.1 217.7L495.3 218.8L507.5 219.7L519.8 220.4L532.0 221.0" stroke="#ffee00" stroke-width="2.9"/>
<path d="M532.0 221.0L538.3 237.5L545.5 253.5L553.6 269.2L562.6 284.3L572.5 298.9L583.2 312.9L594.6 326.3" stroke="#ffee00" stroke-width="3.1"/>
<path d="M373.8 221.6L384.7 219.9L395.4 217.6L406.1 214.9L416.6 211.6L424.0 213.2L431.5 214.0L439.1 214.2L446.6 213.5" stroke="#3a1030" stroke-width="1.2"/>
<path d="M594.6 326.3L598.7 335.6L603.4 344.7L608.5 353.4L614.2 361.9L610.8 372.6L609.8 383.8L611.4 395.0L615.4 405.5" stroke="#3a1030" stroke-width="1.2"/>
</g>
<g stroke="none">
<polygon points="101.3,413.6 87.3,434.2 111.4,432.4" fill="url(#cg1)"/>
<path d="M411.7 678 L409.2 656.5 Q409.6 652.5 416 654.2 Q425.5 657 428.6 662.6 Z" fill="url(#cg2)"/>
<path d="M715.8 508 L699.6 490.2 Q694 494 692.2 502 Q690.8 509 692 511.6 Z" fill="#16e216"/>
<ellipse cx="695.7" cy="500.8" rx="3.6" ry="11" transform="rotate(19 695.7 500.8)" fill="#109010"/>
<path d="M591.9 98.7 L576.5 110.8 Q580 116.5 591.2 119.9 Z" fill="url(#cg3)"/>
<polygon points="659.9,356.9 654.4,367 667.3,367.4" fill="#18e018"/>
<polygon points="659.9,356.9 654.4,367 657.4,367.1" fill="#0d9a0d"/>
<polygon points="649.4,368.4 649.7,374.2 655.8,372.1" fill="#14cc14"/>
<polygon points="679.6,433.8 674.8,443.2 686.8,443.4" fill="#18e018"/>
<polygon points="679.6,433.8 674.8,443.2 677.6,443.3" fill="#0d9a0d"/>
<polygon points="323.0,212.8 316.9,218.9 308.1,218.9 302.0,212.8 302.0,204.0 308.1,197.9 316.9,197.9 323.0,204.0" fill="#157815"/>
<polygon points="363.6,199.9 360.9,202.6 357.1,202.6 354.4,199.9 354.4,196.1 357.1,193.4 360.9,193.4 363.6,196.1" fill="#157815"/>
<polygon points="419.4,194.0 418.0,195.4 416.0,195.4 414.6,194.0 414.6,192.0 416.0,190.6 418.0,190.6 419.4,192.0" fill="#157815"/>
<polygon points="433.6,190.3 430.5,193.4 426.3,193.4 423.2,190.3 423.2,186.1 426.3,183.0 430.5,183.0 433.6,186.1" fill="#157815"/>
</g>
<g fill="none">
<path d="M325.5 266.8L312 205.4M373.8 221.6L358.2 196.2M427.6 186.8L446.6 213.5" stroke="#1fe81f" stroke-width="1.2"/>
</g>
<g stroke="none" fill="none">
<path d="M349.4 379.5L424.4 436.9" stroke="#ff0000" stroke-width="1.2"/>
<path d="M423 435.3 L407.6 419.6 Q403.4 420.2 402.8 426.4 Z" fill="#ff0000"/>
<path d="M349.4 379.5L412 322.5" stroke="#0a6a0a" stroke-width="1.1"/>
<path d="M417.5 318 L402.6 326.4 Q402.4 329.4 406.6 332.4 Z" fill="#0a6a0a"/>
<path d="M349.4 379.5V328" stroke="#0000ff" stroke-width="1.3"/>
<path d="M349.4 313.6 Q346.6 322 345.7 328 Q346 330.6 349.4 330.6 Q352.8 330.6 353.1 328 Q352.2 322 349.4 313.6Z" fill="#0000ff"/>
</g>
<text x="349.5" y="313.2" font-size="7.5" fill="#0000ff" text-anchor="middle" stroke="none">Z</text><text x="424.6" y="439.6" font-size="7.5" fill="#ff0000" text-anchor="middle" stroke="none">x</text>
<g class="lb">
<text transform="translate(158.0 397.0) scale(.85 1)">6.68</text><text transform="translate(440.0 610.4) scale(.85 1)">6.64</text><text transform="translate(640.6 483.6) scale(.85 1)">6.99</text><text transform="translate(651.3 429.3) scale(.85 1)">3.40</text><text transform="translate(630.3 351.2) scale(.85 1)">3.60</text><text transform="translate(635.3 371.3) scale(.85 1)">1.88</text><text transform="translate(562.2 164.0) scale(.85 1)">5.57</text><text transform="translate(318.1 238.1) scale(.85 1)">6.99</text><text transform="translate(366.0 214.0) scale(.85 1)">3.42</text><text transform="translate(417.0 205.5) scale(.85 1)">1.88</text><text transform="translate(436.3 204.0) scale(.85 1)">3.60</text><text class="h s" transform="translate(380.0 228.0) scale(.86 1)">0.01</text><text class="s" transform="translate(380.0 228.0) scale(.86 1)">0.01</text><text class="h s" transform="translate(392.0 225.1) scale(.86 1)">0.01</text><text class="s" transform="translate(392.0 225.1) scale(.86 1)">0.01</text><text class="h s" transform="translate(401.0 223.0) scale(.86 1)">0.01</text><text class="s" transform="translate(401.0 223.0) scale(.86 1)">0.01</text><text class="h s" transform="translate(409.0 221.0) scale(.86 1)">0.01</text><text class="s" transform="translate(409.0 221.0) scale(.86 1)">0.01</text><text class="h s" transform="translate(421.0 350.6) scale(.86 1)">1</text><text class="s" transform="translate(421.0 350.6) scale(.86 1)">1</text><text class="h s" transform="translate(345.5 271.1) scale(.86 1)">3.3</text><text class="s" transform="translate(345.5 271.1) scale(.86 1)">3.3</text><text class="h s" transform="translate(353.4 271.6) scale(.86 1)">3.3</text><text class="s" transform="translate(353.4 271.6) scale(.86 1)">3.3</text><text class="h s" transform="translate(361.2 272.2) scale(.86 1)">3.3</text><text class="s" transform="translate(361.2 272.2) scale(.86 1)">3.3</text><text class="h s" transform="translate(368.9 272.9) scale(.86 1)">3.3</text><text class="s" transform="translate(368.9 272.9) scale(.86 1)">3.3</text><text class="h s" transform="translate(376.7 273.8) scale(.86 1)">3.4</text><text class="s" transform="translate(376.7 273.8) scale(.86 1)">3.4</text><text class="h s" transform="translate(384.5 274.8) scale(.86 1)">3.4</text><text class="s" transform="translate(384.5 274.8) scale(.86 1)">3.4</text><text class="h s" transform="translate(392.2 276.0) scale(.86 1)">3.4</text><text class="s" transform="translate(392.2 276.0) scale(.86 1)">3.4</text><text class="h s" transform="translate(399.9 277.3) scale(.86 1)">3.4</text><text class="s" transform="translate(399.9 277.3) scale(.86 1)">3.4</text><text class="h s" transform="translate(407.6 278.8) scale(.86 1)">3.4</text><text class="s" transform="translate(407.6 278.8) scale(.86 1)">3.4</text><text class="h s" transform="translate(415.3 280.4) scale(.86 1)">3.4</text><text class="s" transform="translate(415.3 280.4) scale(.86 1)">3.4</text><text class="h s" transform="translate(422.9 282.2) scale(.86 1)">3.4</text><text class="s" transform="translate(422.9 282.2) scale(.86 1)">3.4</text><text class="h s" transform="translate(430.4 284.2) scale(.86 1)">3.4</text><text class="s" transform="translate(430.4 284.2) scale(.86 1)">3.4</text><text class="h s" transform="translate(438.0 286.4) scale(.86 1)">3.4</text><text class="s" transform="translate(438.0 286.4) scale(.86 1)">3.4</text><text class="h s" transform="translate(445.4 288.7) scale(.86 1)">3.4</text><text class="s" transform="translate(445.4 288.7) scale(.86 1)">3.4</text><text class="h s" transform="translate(452.8 291.3) scale(.86 1)">3.4</text><text class="s" transform="translate(452.8 291.3) scale(.86 1)">3.4</text><text class="h s" transform="translate(460.1 297.1) scale(.86 1)">3.4</text><text class="s" transform="translate(460.1 297.1) scale(.86 1)">3.4</text><text class="h s" transform="translate(467.1 306.3) scale(.86 1)">3.4</text><text class="s" transform="translate(467.1 306.3) scale(.86 1)">3.4</text><text class="h s" transform="translate(474.1 315.5) scale(.86 1)">3.4</text><text class="s" transform="translate(474.1 315.5) scale(.86 1)">3.4</text><text class="h s" transform="translate(480.9 324.8) scale(.86 1)">3.4</text><text class="s" transform="translate(480.9 324.8) scale(.86 1)">3.4</text><text class="h s" transform="translate(487.7 334.1) scale(.86 1)">3.4</text><text class="s" transform="translate(487.7 334.1) scale(.86 1)">3.4</text><text class="h s" transform="translate(494.4 343.5) scale(.86 1)">3.4</text><text class="s" transform="translate(494.4 343.5) scale(.86 1)">3.4</text><text class="h s" transform="translate(501.0 352.9) scale(.86 1)">3.4</text><text class="s" transform="translate(501.0 352.9) scale(.86 1)">3.4</text><text class="h s" transform="translate(507.6 362.4) scale(.86 1)">3.5</text><text class="s" transform="translate(507.6 362.4) scale(.86 1)">3.5</text><text class="h s" transform="translate(514.1 372.0) scale(.86 1)">3.5</text><text class="s" transform="translate(514.1 372.0) scale(.86 1)">3.5</text><text class="h s" transform="translate(520.5 381.6) scale(.86 1)">3.5</text><text class="s" transform="translate(520.5 381.6) scale(.86 1)">3.5</text><text class="h s" transform="translate(526.9 391.2) scale(.86 1)">3.5</text><text class="s" transform="translate(526.9 391.2) scale(.86 1)">3.5</text><text class="h s" transform="translate(533.2 400.8) scale(.86 1)">3.5</text><text class="s" transform="translate(533.2 400.8) scale(.86 1)">3.5</text><text class="h s" transform="translate(539.5 410.5) scale(.86 1)">3.5</text><text class="s" transform="translate(539.5 410.5) scale(.86 1)">3.5</text><text class="h s" transform="translate(545.7 420.2) scale(.86 1)">3.5</text><text class="s" transform="translate(545.7 420.2) scale(.86 1)">3.5</text><text class="h s" transform="translate(551.9 429.9) scale(.86 1)">3.5</text><text class="s" transform="translate(551.9 429.9) scale(.86 1)">3.5</text><text class="h s" transform="translate(558.0 439.7) scale(.86 1)">3.5</text><text class="s" transform="translate(558.0 439.7) scale(.86 1)">3.5</text><text class="h s" transform="translate(234.6 353.0) scale(.86 1)">6.8</text><text class="s" transform="translate(234.6 353.0) scale(.86 1)">6.8</text><text class="h s" transform="translate(267.9 330.8) scale(.86 1)">6.3</text><text class="s" transform="translate(267.9 330.8) scale(.86 1)">6.3</text><text class="h s" transform="translate(305.4 298.9) scale(.86 1)">6.3</text><text class="s" transform="translate(305.4 298.9) scale(.86 1)">6.3</text><text class="h s" transform="translate(311.7 291.2) scale(.86 1)">6.4</text><text class="s" transform="translate(311.7 291.2) scale(.86 1)">6.4</text><text class="h s" transform="translate(318.6 283.6) scale(.86 1)">6.6</text><text class="s" transform="translate(318.6 283.6) scale(.86 1)">6.6</text><text class="h s" transform="translate(323.5 275.3) scale(.86 1)">6.3</text><text class="s" transform="translate(323.5 275.3) scale(.86 1)">6.3</text><text class="h s" transform="translate(335.3 272.5) scale(.86 1)">3.2</text><text class="s" transform="translate(335.3 272.5) scale(.86 1)">3.2</text><text class="h s" transform="translate(336.7 266.2) scale(.86 1)">3.2</text><text class="s" transform="translate(336.7 266.2) scale(.86 1)">3.2</text><text class="h s" transform="translate(343.0 268.1) scale(.86 1)">3.3</text><text class="s" transform="translate(343.0 268.1) scale(.86 1)">3.3</text><text class="h s" transform="translate(471.7 531.1) scale(.86 1)">3.4</text><text class="s" transform="translate(471.7 531.1) scale(.86 1)">3.4</text><text class="h s" transform="translate(490.0 498.6) scale(.86 1)">6.3</text><text class="s" transform="translate(490.0 498.6) scale(.86 1)">6.3</text><text class="h s" transform="translate(526.7 466.1) scale(.86 1)">6.3</text><text class="s" transform="translate(526.7 466.1) scale(.86 1)">6.3</text><text class="h s" transform="translate(538.0 461.1) scale(.86 1)">6.5</text><text class="s" transform="translate(538.0 461.1) scale(.86 1)">6.5</text><text class="h s" transform="translate(545.0 459.1) scale(.86 1)">0.15</text><text class="s" transform="translate(545.0 459.1) scale(.86 1)">0.15</text><text class="h s" transform="translate(552.0 456.6) scale(.86 1)">6.7</text><text class="s" transform="translate(552.0 456.6) scale(.86 1)">6.7</text><text class="h s" transform="translate(560.0 454.4) scale(.86 1)">7.0</text><text class="s" transform="translate(560.0 454.4) scale(.86 1)">7.0</text><text class="h s" transform="translate(553.3 448.6) scale(.86 1)">0.3</text><text class="s" transform="translate(553.3 448.6) scale(.86 1)">0.3</text><text class="h s" transform="translate(563.0 441.6) scale(.86 1)">0.3</text><text class="s" transform="translate(563.0 441.6) scale(.86 1)">0.3</text><text class="h s" transform="translate(566.0 438.1) scale(.86 1)">0.0</text><text class="s" transform="translate(566.0 438.1) scale(.86 1)">0.0</text><text class="h s" transform="translate(561.0 434.6) scale(.86 1)">3.5</text><text class="s" transform="translate(561.0 434.6) scale(.86 1)">3.5</text><text class="h s" transform="translate(367.0 374.6) scale(.86 1)">0.0</text><text class="s" transform="translate(367.0 374.6) scale(.86 1)">0.0</text><text class="h s" transform="translate(365.5 361.4) scale(.86 1)">0.82</text><text class="s" transform="translate(365.5 361.4) scale(.86 1)">0.82</text><text class="h s" transform="translate(375.0 361.9) scale(.86 1)">0.0</text><text class="s" transform="translate(375.0 361.9) scale(.86 1)">0.0</text><text class="h s" transform="translate(381.9 346.8) scale(.86 1)">0.82</text><text class="s" transform="translate(381.9 346.8) scale(.86 1)">0.82</text><text class="h s" transform="translate(391.4 347.3) scale(.86 1)">0.0</text><text class="s" transform="translate(391.4 347.3) scale(.86 1)">0.0</text><text class="h s" transform="translate(398.3 332.2) scale(.86 1)">0.82</text><text class="s" transform="translate(398.3 332.2) scale(.86 1)">0.82</text><text class="h s" transform="translate(407.8 332.7) scale(.86 1)">0.0</text><text class="s" transform="translate(407.8 332.7) scale(.86 1)">0.0</text><text class="h s" transform="translate(414.7 317.6) scale(.86 1)">0.82</text><text class="s" transform="translate(414.7 317.6) scale(.86 1)">0.82</text><text class="h s" transform="translate(424.2 318.1) scale(.86 1)">0.0</text><text class="s" transform="translate(424.2 318.1) scale(.86 1)">0.0</text><text class="h s" transform="translate(433.6 304.0) scale(.86 1)">1.00</text><text class="s" transform="translate(433.6 304.0) scale(.86 1)">1.00</text><text class="h s" transform="translate(443.1 304.5) scale(.86 1)">0.0</text><text class="s" transform="translate(443.1 304.5) scale(.86 1)">0.0</text><text class="h s" transform="translate(466.4 274.8) scale(.86 1)">1.00</text><text class="s" transform="translate(466.4 274.8) scale(.86 1)">1.00</text><text class="h s" transform="translate(475.9 275.3) scale(.86 1)">0.0</text><text class="s" transform="translate(475.9 275.3) scale(.86 1)">0.0</text><text class="h s" transform="translate(482.8 260.2) scale(.86 1)">0.90</text><text class="s" transform="translate(482.8 260.2) scale(.86 1)">0.90</text><text class="h s" transform="translate(492.3 260.7) scale(.86 1)">0.0</text><text class="s" transform="translate(492.3 260.7) scale(.86 1)">0.0</text><text class="h s" transform="translate(499.2 245.6) scale(.86 1)">0.70</text><text class="s" transform="translate(499.2 245.6) scale(.86 1)">0.70</text><text class="h s" transform="translate(508.7 246.1) scale(.86 1)">0.0</text><text class="s" transform="translate(508.7 246.1) scale(.86 1)">0.0</text><text class="h s" transform="translate(515.6 231.0) scale(.86 1)">0.9</text><text class="s" transform="translate(515.6 231.0) scale(.86 1)">0.9</text><text class="h s" transform="translate(525.1 231.5) scale(.86 1)">0.0</text><text class="s" transform="translate(525.1 231.5) scale(.86 1)">0.0</text><text class="h s" transform="translate(455.0 292.1) scale(.86 1)">1.0</text><text class="s" transform="translate(455.0 292.1) scale(.86 1)">1.0</text><text class="h s" transform="translate(449.0 288.6) scale(.86 1)">3.4</text><text class="s" transform="translate(449.0 288.6) scale(.86 1)">3.4</text><text class="h s" transform="translate(232.6 360.0) scale(.86 1)">0.30</text><text class="s" transform="translate(232.6 360.0) scale(.86 1)">0.30</text><text class="h s" transform="translate(237.6 359.7) scale(.86 1)">0.0</text><text class="s" transform="translate(237.6 359.7) scale(.86 1)">0.0</text><text class="h s" transform="translate(240.7 361.4) scale(.86 1)">0.33</text><text class="s" transform="translate(240.7 361.4) scale(.86 1)">0.33</text><text class="h s" transform="translate(245.8 361.1) scale(.86 1)">0.0</text><text class="s" transform="translate(245.8 361.1) scale(.86 1)">0.0</text><text class="h s" transform="translate(248.8 362.8) scale(.86 1)">0.39</text><text class="s" transform="translate(248.8 362.8) scale(.86 1)">0.39</text><text class="h s" transform="translate(253.9 362.5) scale(.86 1)">0.0</text><text class="s" transform="translate(253.9 362.5) scale(.86 1)">0.0</text><text class="h s" transform="translate(256.9 364.2) scale(.86 1)">0.49</text><text class="s" transform="translate(256.9 364.2) scale(.86 1)">0.49</text><text class="h s" transform="translate(262.0 364.0) scale(.86 1)">0.0</text><text class="s" transform="translate(262.0 364.0) scale(.86 1)">0.0</text><text class="h s" transform="translate(265.0 365.8) scale(.86 1)">0.46</text><text class="s" transform="translate(265.0 365.8) scale(.86 1)">0.46</text><text class="h s" transform="translate(270.0 365.6) scale(.86 1)">0.0</text><text class="s" transform="translate(270.0 365.6) scale(.86 1)">0.0</text><text class="h s" transform="translate(273.1 367.4) scale(.86 1)">0.61</text><text class="s" transform="translate(273.1 367.4) scale(.86 1)">0.61</text><text class="h s" transform="translate(278.1 367.2) scale(.86 1)">0.0</text><text class="s" transform="translate(278.1 367.2) scale(.86 1)">0.0</text><text class="h s" transform="translate(281.1 369.1) scale(.86 1)">0.53</text><text class="s" transform="translate(281.1 369.1) scale(.86 1)">0.53</text><text class="h s" transform="translate(286.2 368.9) scale(.86 1)">0.0</text><text class="s" transform="translate(286.2 368.9) scale(.86 1)">0.0</text><text class="h s" transform="translate(289.2 370.8) scale(.86 1)">0.51</text><text class="s" transform="translate(289.2 370.8) scale(.86 1)">0.51</text><text class="h s" transform="translate(294.2 370.7) scale(.86 1)">0.0</text><text class="s" transform="translate(294.2 370.7) scale(.86 1)">0.0</text><text class="h s" transform="translate(297.2 372.6) scale(.86 1)">0.57</text><text class="s" transform="translate(297.2 372.6) scale(.86 1)">0.57</text><text class="h s" transform="translate(302.2 372.6) scale(.86 1)">0.0</text><text class="s" transform="translate(302.2 372.6) scale(.86 1)">0.0</text><text class="h s" transform="translate(305.2 374.5) scale(.86 1)">0.53</text><text class="s" transform="translate(305.2 374.5) scale(.86 1)">0.53</text><text class="h s" transform="translate(310.2 374.5) scale(.86 1)">0.0</text><text class="s" transform="translate(310.2 374.5) scale(.86 1)">0.0</text><text class="h s" transform="translate(313.2 376.5) scale(.86 1)">0.57</text><text class="s" transform="translate(313.2 376.5) scale(.86 1)">0.57</text><text class="h s" transform="translate(318.2 376.5) scale(.86 1)">0.0</text><text class="s" transform="translate(318.2 376.5) scale(.86 1)">0.0</text><text class="h s" transform="translate(321.2 378.5) scale(.86 1)">0.51</text><text class="s" transform="translate(321.2 378.5) scale(.86 1)">0.51</text><text class="h s" transform="translate(326.2 378.5) scale(.86 1)">0.0</text><text class="s" transform="translate(326.2 378.5) scale(.86 1)">0.0</text><text class="h s" transform="translate(329.2 380.6) scale(.86 1)">0.59</text><text class="s" transform="translate(329.2 380.6) scale(.86 1)">0.59</text><text class="h s" transform="translate(334.1 380.7) scale(.86 1)">0.0</text><text class="s" transform="translate(334.1 380.7) scale(.86 1)">0.0</text><text class="h s" transform="translate(337.1 382.8) scale(.86 1)">0.57</text><text class="s" transform="translate(337.1 382.8) scale(.86 1)">0.57</text><text class="h s" transform="translate(342.1 382.8) scale(.86 1)">0.0</text><text class="s" transform="translate(342.1 382.8) scale(.86 1)">0.0</text><text class="h s" transform="translate(345.0 385.0) scale(.86 1)">0.60</text><text class="s" transform="translate(345.0 385.0) scale(.86 1)">0.60</text><text class="h s" transform="translate(350.0 385.1) scale(.86 1)">0.0</text><text class="s" transform="translate(350.0 385.1) scale(.86 1)">0.0</text><text class="h s" transform="translate(354.4 391.7) scale(.86 1)">0.0</text><text class="s" transform="translate(354.4 391.7) scale(.86 1)">0.0</text><text class="h s" transform="translate(356.9 397.4) scale(.86 1)">0.51</text><text class="s" transform="translate(356.9 397.4) scale(.86 1)">0.51</text><text class="h s" transform="translate(365.6 405.5) scale(.86 1)">0.0</text><text class="s" transform="translate(365.6 405.5) scale(.86 1)">0.0</text><text class="h s" transform="translate(369.4 411.7) scale(.86 1)">0.57</text><text class="s" transform="translate(369.4 411.7) scale(.86 1)">0.57</text><text class="h s" transform="translate(376.9 418.0) scale(.86 1)">0.0</text><text class="s" transform="translate(376.9 418.0) scale(.86 1)">0.0</text><text class="h s" transform="translate(380.0 426.1) scale(.86 1)">0.53</text><text class="s" transform="translate(380.0 426.1) scale(.86 1)">0.53</text><text class="h s" transform="translate(387.5 433.0) scale(.86 1)">0.0</text><text class="s" transform="translate(387.5 433.0) scale(.86 1)">0.0</text><text class="h s" transform="translate(391.0 441.6) scale(.86 1)">0.57</text><text class="s" transform="translate(391.0 441.6) scale(.86 1)">0.57</text><text class="h s" transform="translate(398.5 446.1) scale(.86 1)">0.0</text><text class="s" transform="translate(398.5 446.1) scale(.86 1)">0.0</text><text class="h s" transform="translate(400.8 455.3) scale(.86 1)">0.51</text><text class="s" transform="translate(400.8 455.3) scale(.86 1)">0.51</text><text class="h s" transform="translate(407.5 459.4) scale(.86 1)">0.0</text><text class="s" transform="translate(407.5 459.4) scale(.86 1)">0.0</text><text class="h s" transform="translate(412.5 468.6) scale(.86 1)">0.53</text><text class="s" transform="translate(412.5 468.6) scale(.86 1)">0.53</text><text class="h s" transform="translate(419.2 473.6) scale(.86 1)">0.0</text><text class="s" transform="translate(419.2 473.6) scale(.86 1)">0.0</text><text class="h s" transform="translate(421.7 484.4) scale(.86 1)">0.61</text><text class="s" transform="translate(421.7 484.4) scale(.86 1)">0.61</text><text class="h s" transform="translate(430.8 487.8) scale(.86 1)">0.0</text><text class="s" transform="translate(430.8 487.8) scale(.86 1)">0.0</text><text class="h s" transform="translate(435.8 496.9) scale(.86 1)">0.46</text><text class="s" transform="translate(435.8 496.9) scale(.86 1)">0.46</text><text class="h s" transform="translate(443.3 501.9) scale(.86 1)">0.0</text><text class="s" transform="translate(443.3 501.9) scale(.86 1)">0.0</text><text class="h s" transform="translate(450.0 510.3) scale(.86 1)">0.49</text><text class="s" transform="translate(450.0 510.3) scale(.86 1)">0.49</text><text class="h s" transform="translate(455.0 516.1) scale(.86 1)">0.0</text><text class="s" transform="translate(455.0 516.1) scale(.86 1)">0.0</text><text class="h s" transform="translate(459.2 523.6) scale(.86 1)">0.39</text><text class="s" transform="translate(459.2 523.6) scale(.86 1)">0.39</text><text class="h s" transform="translate(463.0 527.1) scale(.86 1)">0.0</text><text class="s" transform="translate(463.0 527.1) scale(.86 1)">0.0</text><text class="h" transform="translate(250.5 374.4) scale(.85 1)">0.30</text><text transform="translate(250.5 374.4) scale(.85 1)">0.30</text><text class="h" transform="translate(272.0 392.7) scale(.85 1)">0.53</text><text transform="translate(272.0 392.7) scale(.85 1)">0.53</text><text class="h" transform="translate(294.9 411.0) scale(.85 1)">0.63</text><text transform="translate(294.9 411.0) scale(.85 1)">0.63</text><text class="h" transform="translate(316.2 427.9) scale(.85 1)">0.81</text><text transform="translate(316.2 427.9) scale(.85 1)">0.81</text><text class="h" transform="translate(338.6 444.7) scale(.85 1)">0.90</text><text transform="translate(338.6 444.7) scale(.85 1)">0.90</text><text class="h" transform="translate(361.0 461.5) scale(.85 1)">0.90</text><text transform="translate(361.0 461.5) scale(.85 1)">0.90</text><text class="h" transform="translate(380.4 476.8) scale(.85 1)">0.81</text><text transform="translate(380.4 476.8) scale(.85 1)">0.81</text><text class="h" transform="translate(403.3 493.6) scale(.85 1)">0.60</text><text transform="translate(403.3 493.6) scale(.85 1)">0.60</text><text class="h" transform="translate(423.2 508.8) scale(.85 1)">0.50</text><text transform="translate(423.2 508.8) scale(.85 1)">0.50</text><text class="h" transform="translate(446.0 522.6) scale(.85 1)">0.30</text><text transform="translate(446.0 522.6) scale(.85 1)">0.30</text><text class="h s" transform="translate(242.1 360.5) scale(.86 1)">0.3</text><text class="s" transform="translate(242.1 360.5) scale(.86 1)">0.3</text><text class="h s" transform="translate(250.7 366.8) scale(.86 1)">0.0</text><text class="s" transform="translate(250.7 366.8) scale(.86 1)">0.0</text><text class="h s" transform="translate(259.3 373.2) scale(.86 1)">0.3</text><text class="s" transform="translate(259.3 373.2) scale(.86 1)">0.3</text><text class="h s" transform="translate(267.9 379.6) scale(.86 1)">0.0</text><text class="s" transform="translate(267.9 379.6) scale(.86 1)">0.0</text><text class="h s" transform="translate(276.5 385.9) scale(.86 1)">0.3</text><text class="s" transform="translate(276.5 385.9) scale(.86 1)">0.3</text><text class="h s" transform="translate(285.1 392.3) scale(.86 1)">0.0</text><text class="s" transform="translate(285.1 392.3) scale(.86 1)">0.0</text><text class="h s" transform="translate(293.7 398.7) scale(.86 1)">0.3</text><text class="s" transform="translate(293.7 398.7) scale(.86 1)">0.3</text><text class="h s" transform="translate(302.3 405.0) scale(.86 1)">0.0</text><text class="s" transform="translate(302.3 405.0) scale(.86 1)">0.0</text><text class="h s" transform="translate(310.9 411.4) scale(.86 1)">0.3</text><text class="s" transform="translate(310.9 411.4) scale(.86 1)">0.3</text><text class="h s" transform="translate(319.5 417.7) scale(.86 1)">0.0</text><text class="s" transform="translate(319.5 417.7) scale(.86 1)">0.0</text><text class="h s" transform="translate(328.1 424.1) scale(.86 1)">0.3</text><text class="s" transform="translate(328.1 424.1) scale(.86 1)">0.3</text><text class="h s" transform="translate(336.7 430.5) scale(.86 1)">0.0</text><text class="s" transform="translate(336.7 430.5) scale(.86 1)">0.0</text><text class="h s" transform="translate(345.3 436.8) scale(.86 1)">0.3</text><text class="s" transform="translate(345.3 436.8) scale(.86 1)">0.3</text><text class="h s" transform="translate(353.9 443.2) scale(.86 1)">0.0</text><text class="s" transform="translate(353.9 443.2) scale(.86 1)">0.0</text><text class="h s" transform="translate(362.5 449.6) scale(.86 1)">0.3</text><text class="s" transform="translate(362.5 449.6) scale(.86 1)">0.3</text><text class="h s" transform="translate(371.1 455.9) scale(.86 1)">0.0</text><text class="s" transform="translate(371.1 455.9) scale(.86 1)">0.0</text><text class="h s" transform="translate(379.7 462.3) scale(.86 1)">0.3</text><text class="s" transform="translate(379.7 462.3) scale(.86 1)">0.3</text><text class="h s" transform="translate(388.3 468.7) scale(.86 1)">0.0</text><text class="s" transform="translate(388.3 468.7) scale(.86 1)">0.0</text><text class="h s" transform="translate(396.9 475.0) scale(.86 1)">0.3</text><text class="s" transform="translate(396.9 475.0) scale(.86 1)">0.3</text><text class="h s" transform="translate(405.5 481.4) scale(.86 1)">0.0</text><text class="s" transform="translate(405.5 481.4) scale(.86 1)">0.0</text><text class="h s" transform="translate(414.1 487.8) scale(.86 1)">0.3</text><text class="s" transform="translate(414.1 487.8) scale(.86 1)">0.3</text><text class="h s" transform="translate(422.7 494.1) scale(.86 1)">0.0</text><text class="s" transform="translate(422.7 494.1) scale(.86 1)">0.0</text><text class="h s" transform="translate(431.3 500.5) scale(.86 1)">0.3</text><text class="s" transform="translate(431.3 500.5) scale(.86 1)">0.3</text><text class="h s" transform="translate(439.9 506.8) scale(.86 1)">0.0</text><text class="s" transform="translate(439.9 506.8) scale(.86 1)">0.0</text><text class="h s" transform="translate(448.5 513.2) scale(.86 1)">0.3</text><text class="s" transform="translate(448.5 513.2) scale(.86 1)">0.3</text><text class="h s" transform="translate(457.1 519.6) scale(.86 1)">0.0</text><text class="s" transform="translate(457.1 519.6) scale(.86 1)">0.0</text>
</g>
<g>
<rect x="668.7" y="598.7" width="287.6" height="117.3" fill="#fff" stroke="#404040" stroke-width="1"/>
<text x="672.3" y="610" class="lt">Membrane Stress (force/width)</text>
<text x="812.6" y="610" class="lt">Cable Force (force)</text>
<rect x="672.3" y="618.0" width="53.2" height="10.8" fill="url(#lg5)"/>
<rect x="812.6" y="618.0" width="53.6" height="10.8" fill="url(#lg5)"/>
<text x="736.7" y="625.9" class="lt">2.95 - 3.54</text>
<text x="877.3" y="625.9" class="lt">5.81 - 6.97</text>
<rect x="672.3" y="633.8" width="53.2" height="10.8" fill="url(#lg4)"/>
<rect x="812.6" y="633.8" width="53.6" height="10.8" fill="url(#lg4)"/>
<text x="736.7" y="641.7" class="lt">2.36 - 2.95</text>
<text x="877.3" y="641.7" class="lt">4.65 - 5.81</text>
<rect x="672.3" y="649.6" width="53.2" height="10.8" fill="url(#lg3)"/>
<rect x="812.6" y="649.6" width="53.6" height="10.8" fill="url(#lg3)"/>
<text x="736.7" y="657.5" class="lt">1.77 - 2.36</text>
<text x="877.3" y="657.5" class="lt">3.48 - 4.65</text>
<rect x="672.3" y="665.4" width="53.2" height="10.8" fill="url(#lg2)"/>
<rect x="812.6" y="665.4" width="53.6" height="10.8" fill="url(#lg2)"/>
<text x="736.7" y="673.3" class="lt">1.18 - 1.77</text>
<text x="877.3" y="673.3" class="lt">2.32 - 3.48</text>
<rect x="672.3" y="681.2" width="53.2" height="10.8" fill="url(#lg1)"/>
<rect x="812.6" y="681.2" width="53.6" height="10.8" fill="url(#lg1)"/>
<text x="736.7" y="689.1" class="lt">0.59 - 1.18</text>
<text x="877.3" y="689.1" class="lt">1.16 - 2.32</text>
<rect x="672.3" y="697.0" width="53.2" height="10.8" fill="url(#lg0)"/>
<rect x="812.6" y="697.0" width="53.6" height="10.8" fill="url(#lg0)"/>
<text x="736.7" y="704.9" class="lt">0.00 - 0.59</text>
<text x="877.3" y="704.9" class="lt">0.00 - 1.16</text>
</g>
</svg>
</body></html>
